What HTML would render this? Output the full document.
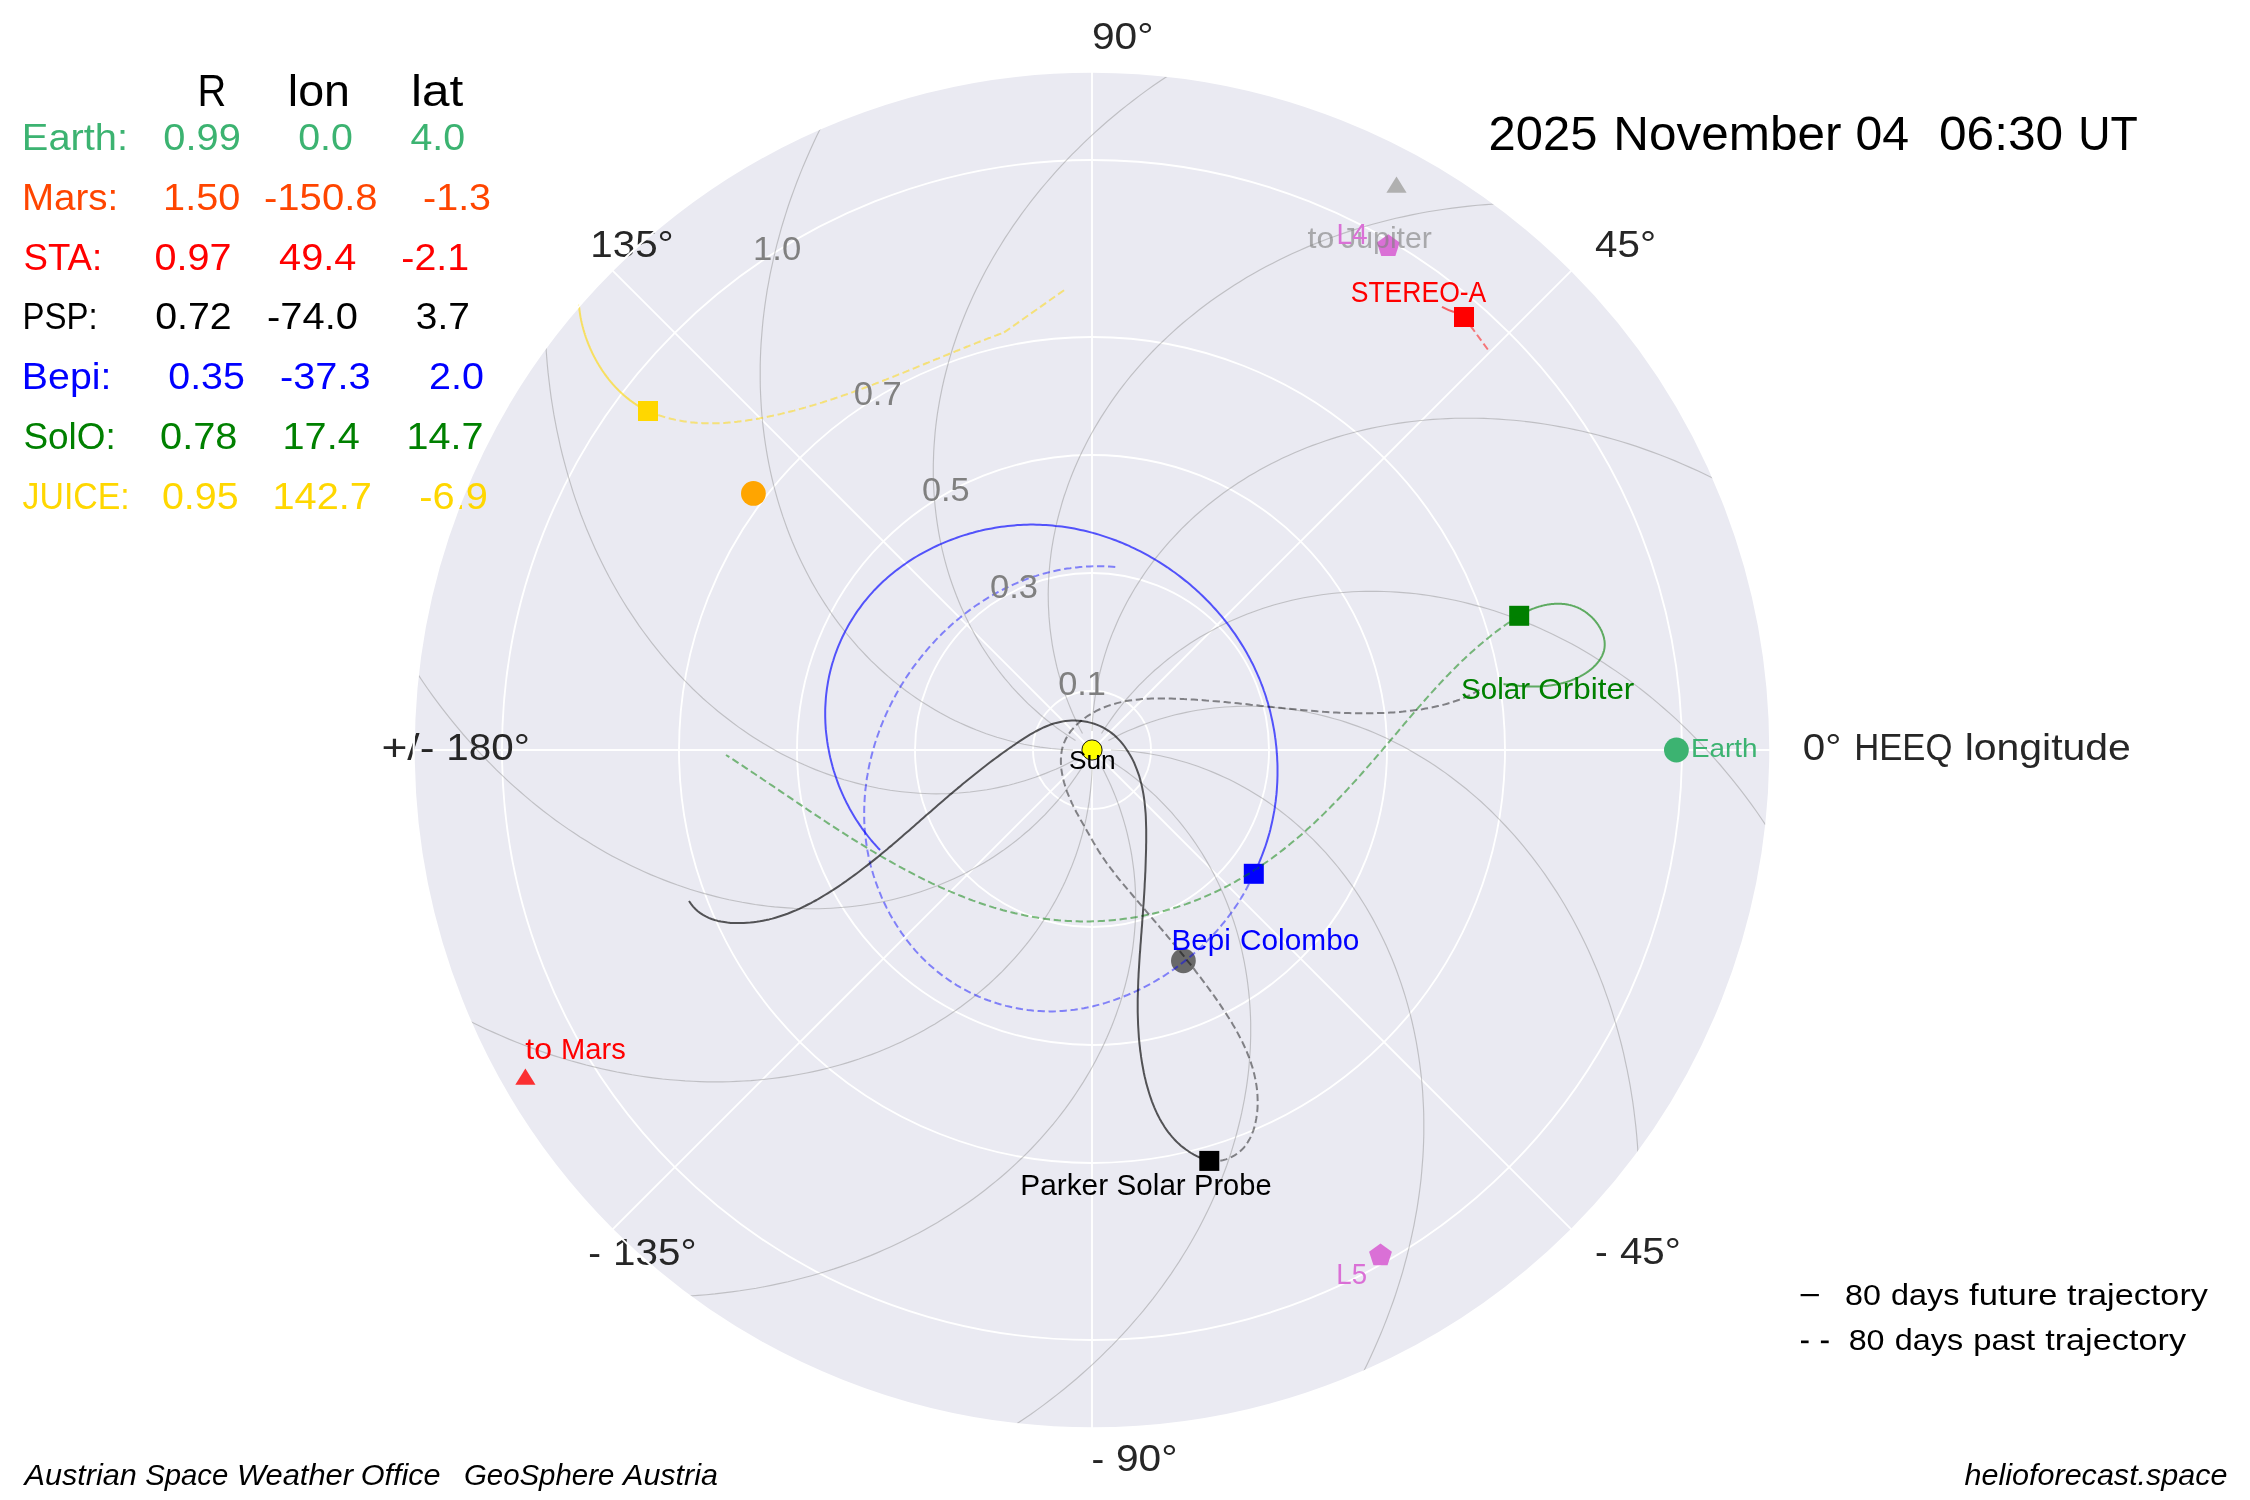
<!DOCTYPE html>
<html><head><meta charset="utf-8"><title>Planets</title><style>html,body{margin:0;padding:0;background:#fff;width:2250px;height:1500px;overflow:hidden}</style></head><body>
<svg xml:space="preserve" width="2250" height="1500" viewBox="0 0 2250 1500" style="position:absolute;left:0;top:0;will-change:transform;font-family:'Liberation Sans',sans-serif">
<rect width="2250" height="1500" fill="#ffffff"/>
<circle cx="1092.0" cy="750.0" r="678.3" fill="#EAEAF2"/>
<g stroke="#ffffff" stroke-width="1.85"><circle cx="1092.0" cy="750.0" r="59.0" fill="none"/><circle cx="1092.0" cy="750.0" r="177.0" fill="none"/><circle cx="1092.0" cy="750.0" r="295.0" fill="none"/><circle cx="1092.0" cy="750.0" r="413.0" fill="none"/><circle cx="1092.0" cy="750.0" r="590.0" fill="none"/><line x1="1092.0" y1="750.0" x2="1770.30" y2="750.00"/><line x1="1092.0" y1="750.0" x2="1571.63" y2="270.37"/><line x1="1092.0" y1="750.0" x2="1092.00" y2="71.70"/><line x1="1092.0" y1="750.0" x2="612.37" y2="270.37"/><line x1="1092.0" y1="750.0" x2="413.70" y2="750.00"/><line x1="1092.0" y1="750.0" x2="612.37" y2="1229.63"/><line x1="1092.0" y1="750.0" x2="1092.00" y2="1428.30"/><line x1="1092.0" y1="750.0" x2="1571.63" y2="1229.63"/></g>
<g fill="none" stroke="#8c8c8c" stroke-opacity="0.45" stroke-width="1.15"><polyline points="1075.5,740.5 1070.9,737.6 1066.3,734.5 1061.8,731.4 1057.3,728.2 1052.9,724.9 1048.5,721.5 1044.2,718.0 1040.0,714.5 1035.9,710.8 1031.8,707.1 1027.7,703.3 1023.8,699.4 1019.9,695.4 1016.1,691.4 1012.3,687.3 1008.7,683.0 1005.1,678.8 1001.5,674.4 998.1,670.0 994.7,665.5 991.4,660.9 988.2,656.2 985.1,651.5 982.0,646.7 979.1,641.9 976.2,636.9 973.4,631.9 970.7,626.9 968.1,621.8 965.5,616.6 963.1,611.3 960.7,606.0 958.5,600.7 956.3,595.3 954.2,589.8 952.2,584.3 950.3,578.7 948.5,573.1 946.8,567.4 945.2,561.7 943.7,555.9 942.3,550.1 941.0,544.2 939.8,538.3 938.7,532.3 937.7,526.3 936.8,520.3 936.0,514.2 935.3,508.1 934.7,502.0 934.2,495.8 933.8,489.6 933.5,483.3 933.3,477.1 933.3,470.8 933.3,464.5 933.5,458.1 933.7,451.7 934.1,445.3 934.6,438.9 935.1,432.5 935.8,426.0 936.6,419.6 937.5,413.1 938.6,406.6 939.7,400.1 941.0,393.6 942.3,387.1 943.8,380.5 945.4,374.0 947.1,367.5 948.9,360.9 950.8,354.4 952.8,347.8 955.0,341.3 957.2,334.8 959.6,328.2 962.1,321.7 964.7,315.2 967.4,308.7 970.3,302.2 973.2,295.8 976.3,289.3 979.4,282.9 982.7,276.4 986.1,270.0 989.6,263.7 993.3,257.3 997.0,251.0 1000.9,244.7 1004.8,238.4 1008.9,232.2 1013.1,225.9 1017.4,219.8 1021.8,213.6 1026.4,207.5 1031.0,201.4 1035.8,195.4 1040.6,189.4 1045.6,183.5 1050.7,177.6 1055.9,171.7 1061.2,165.9 1066.6,160.2 1072.1,154.4 1077.8,148.8 1083.5,143.2 1089.3,137.6 1095.3,132.1 1101.3,126.7 1107.5,121.3 1113.8,116.0 1120.1,110.8 1126.6,105.6 1133.2,100.5 1139.9,95.4 1146.7,90.4 1153.5,85.5 1160.5,80.7 1167.6,75.9"/><polyline points="1073.0,750.0 1067.5,749.8 1062.0,749.5 1056.5,749.0 1051.1,748.5 1045.6,747.8 1040.1,747.1 1034.7,746.2 1029.2,745.2 1023.8,744.2 1018.4,743.0 1013.0,741.7 1007.6,740.3 1002.3,738.8 996.9,737.2 991.6,735.5 986.3,733.7 981.1,731.8 975.9,729.8 970.7,727.6 965.5,725.4 960.3,723.1 955.2,720.7 950.2,718.2 945.1,715.5 940.1,712.8 935.2,710.0 930.3,707.1 925.4,704.0 920.6,700.9 915.8,697.7 911.0,694.4 906.3,691.0 901.7,687.5 897.1,683.9 892.6,680.2 888.1,676.4 883.7,672.5 879.3,668.5 875.0,664.4 870.7,660.3 866.5,656.0 862.4,651.7 858.3,647.3 854.3,642.7 850.4,638.1 846.5,633.5 842.7,628.7 839.0,623.8 835.3,618.9 831.7,613.9 828.2,608.8 824.8,603.6 821.4,598.3 818.1,593.0 814.9,587.5 811.8,582.1 808.8,576.5 805.8,570.8 802.9,565.1 800.1,559.3 797.4,553.5 794.8,547.5 792.2,541.5 789.8,535.5 787.4,529.3 785.2,523.1 783.0,516.9 780.9,510.5 778.9,504.1 777.0,497.7 775.2,491.2 773.5,484.6 771.9,478.0 770.4,471.3 769.0,464.6 767.7,457.8 766.5,450.9 765.4,444.0 764.4,437.1 763.5,430.1 762.7,423.1 762.0,416.0 761.4,408.9 761.0,401.7 760.6,394.5 760.3,387.3 760.2,380.0 760.2,372.7 760.2,365.3 760.4,357.9 760.7,350.5 761.1,343.1 761.7,335.6 762.3,328.1 763.0,320.6 763.9,313.0 764.9,305.4 766.0,297.8 767.2,290.2 768.6,282.6 770.0,274.9 771.6,267.3 773.3,259.6 775.1,251.9 777.0,244.2 779.1,236.5 781.2,228.7 783.5,221.0 785.9,213.3 788.4,205.5 791.1,197.8 793.9,190.1 796.8,182.3 799.8,174.6 802.9,166.9 806.2,159.2 809.6,151.5 813.1,143.8 816.7,136.1 820.4,128.4"/><polyline points="1075.6,759.5 1070.7,762.1 1065.8,764.5 1060.8,766.9 1055.8,769.2 1050.7,771.3 1045.6,773.4 1040.4,775.4 1035.3,777.3 1030.0,779.0 1024.7,780.7 1019.4,782.3 1014.1,783.8 1008.7,785.2 1003.3,786.4 997.8,787.6 992.3,788.7 986.8,789.7 981.3,790.5 975.7,791.3 970.1,792.0 964.5,792.5 958.9,793.0 953.2,793.3 947.6,793.6 941.9,793.7 936.2,793.8 930.5,793.7 924.7,793.5 919.0,793.2 913.2,792.8 907.5,792.3 901.7,791.7 895.9,791.0 890.2,790.2 884.4,789.2 878.6,788.2 872.8,787.0 867.0,785.8 861.3,784.4 855.5,782.9 849.8,781.3 844.0,779.7 838.3,777.9 832.6,775.9 826.8,773.9 821.1,771.8 815.5,769.6 809.8,767.2 804.2,764.8 798.5,762.2 793.0,759.6 787.4,756.8 781.8,753.9 776.3,750.9 770.8,747.8 765.4,744.6 759.9,741.3 754.6,737.9 749.2,734.4 743.9,730.8 738.6,727.1 733.4,723.3 728.2,719.3 723.0,715.3 717.9,711.2 712.8,706.9 707.8,702.6 702.8,698.2 697.9,693.6 693.0,689.0 688.2,684.2 683.5,679.4 678.8,674.5 674.1,669.4 669.5,664.3 665.0,659.1 660.6,653.8 656.2,648.3 651.8,642.8 647.5,637.2 643.3,631.5 639.2,625.8 635.2,619.9 631.2,613.9 627.2,607.9 623.4,601.7 619.6,595.5 616.0,589.2 612.3,582.7 608.8,576.3 605.4,569.7 602.0,563.0 598.7,556.3 595.5,549.5 592.4,542.6 589.4,535.6 586.4,528.5 583.6,521.4 580.8,514.2 578.2,506.9 575.6,499.6 573.1,492.1 570.8,484.6 568.5,477.1 566.3,469.4 564.2,461.7 562.2,454.0 560.3,446.1 558.6,438.2 556.9,430.3 555.3,422.2 553.8,414.2 552.5,406.0 551.2,397.8 550.1,389.6 549.1,381.3 548.1,372.9 547.3,364.5 546.6,356.0 546.0,347.5"/><polyline points="1082.5,766.5 1079.6,771.1 1076.5,775.7 1073.4,780.2 1070.2,784.7 1066.9,789.1 1063.5,793.5 1060.0,797.8 1056.5,802.0 1052.8,806.1 1049.1,810.2 1045.3,814.3 1041.4,818.2 1037.4,822.1 1033.4,825.9 1029.3,829.7 1025.0,833.3 1020.8,836.9 1016.4,840.5 1012.0,843.9 1007.5,847.3 1002.9,850.6 998.2,853.8 993.5,856.9 988.7,860.0 983.9,862.9 978.9,865.8 973.9,868.6 968.9,871.3 963.8,873.9 958.6,876.5 953.3,878.9 948.0,881.3 942.7,883.5 937.3,885.7 931.8,887.8 926.3,889.8 920.7,891.7 915.1,893.5 909.4,895.2 903.7,896.8 897.9,898.3 892.1,899.7 886.2,901.0 880.3,902.2 874.3,903.3 868.3,904.3 862.3,905.2 856.2,906.0 850.1,906.7 844.0,907.3 837.8,907.8 831.6,908.2 825.3,908.5 819.1,908.7 812.8,908.7 806.5,908.7 800.1,908.5 793.7,908.3 787.3,907.9 780.9,907.4 774.5,906.9 768.0,906.2 761.6,905.4 755.1,904.5 748.6,903.4 742.1,902.3 735.6,901.0 729.1,899.7 722.5,898.2 716.0,896.6 709.5,894.9 702.9,893.1 696.4,891.2 689.8,889.2 683.3,887.0 676.8,884.8 670.2,882.4 663.7,879.9 657.2,877.3 650.7,874.6 644.2,871.7 637.8,868.8 631.3,865.7 624.9,862.6 618.4,859.3 612.0,855.9 605.7,852.4 599.3,848.7 593.0,845.0 586.7,841.1 580.4,837.2 574.2,833.1 567.9,828.9 561.8,824.6 555.6,820.2 549.5,815.6 543.4,811.0 537.4,806.2 531.4,801.4 525.5,796.4 519.6,791.3 513.7,786.1 507.9,780.8 502.2,775.4 496.4,769.9 490.8,764.2 485.2,758.5 479.6,752.7 474.1,746.7 468.7,740.7 463.3,734.5 458.0,728.2 452.8,721.9 447.6,715.4 442.5,708.8 437.4,702.1 432.4,695.3 427.5,688.5 422.7,681.5 417.9,674.4"/><polyline points="1092.0,769.0 1091.8,774.5 1091.5,780.0 1091.0,785.5 1090.5,790.9 1089.8,796.4 1089.1,801.9 1088.2,807.3 1087.2,812.8 1086.2,818.2 1085.0,823.6 1083.7,829.0 1082.3,834.4 1080.8,839.7 1079.2,845.1 1077.5,850.4 1075.7,855.7 1073.8,860.9 1071.8,866.1 1069.6,871.3 1067.4,876.5 1065.1,881.7 1062.7,886.8 1060.2,891.8 1057.5,896.9 1054.8,901.9 1052.0,906.8 1049.1,911.7 1046.0,916.6 1042.9,921.4 1039.7,926.2 1036.4,931.0 1033.0,935.7 1029.5,940.3 1025.9,944.9 1022.2,949.4 1018.4,953.9 1014.5,958.3 1010.5,962.7 1006.4,967.0 1002.3,971.3 998.0,975.5 993.7,979.6 989.3,983.7 984.7,987.7 980.1,991.6 975.5,995.5 970.7,999.3 965.8,1003.0 960.9,1006.7 955.9,1010.3 950.8,1013.8 945.6,1017.2 940.3,1020.6 935.0,1023.9 929.5,1027.1 924.1,1030.2 918.5,1033.2 912.8,1036.2 907.1,1039.1 901.3,1041.9 895.5,1044.6 889.5,1047.2 883.5,1049.8 877.5,1052.2 871.3,1054.6 865.1,1056.8 858.9,1059.0 852.5,1061.1 846.1,1063.1 839.7,1065.0 833.2,1066.8 826.6,1068.5 820.0,1070.1 813.3,1071.6 806.6,1073.0 799.8,1074.3 792.9,1075.5 786.0,1076.6 779.1,1077.6 772.1,1078.5 765.1,1079.3 758.0,1080.0 750.9,1080.6 743.7,1081.0 736.5,1081.4 729.3,1081.7 722.0,1081.8 714.7,1081.8 707.3,1081.8 699.9,1081.6 692.5,1081.3 685.1,1080.9 677.6,1080.3 670.1,1079.7 662.6,1079.0 655.0,1078.1 647.4,1077.1 639.8,1076.0 632.2,1074.8 624.6,1073.4 616.9,1072.0 609.3,1070.4 601.6,1068.7 593.9,1066.9 586.2,1065.0 578.5,1062.9 570.7,1060.8 563.0,1058.5 555.3,1056.1 547.5,1053.6 539.8,1050.9 532.1,1048.1 524.3,1045.2 516.6,1042.2 508.9,1039.1 501.2,1035.8 493.5,1032.4 485.8,1028.9 478.1,1025.3 470.4,1021.6"/><polyline points="1101.5,766.4 1104.1,771.3 1106.5,776.2 1108.9,781.2 1111.2,786.2 1113.3,791.3 1115.4,796.4 1117.4,801.6 1119.3,806.7 1121.0,812.0 1122.7,817.3 1124.3,822.6 1125.8,827.9 1127.2,833.3 1128.4,838.7 1129.6,844.2 1130.7,849.7 1131.7,855.2 1132.5,860.7 1133.3,866.3 1134.0,871.9 1134.5,877.5 1135.0,883.1 1135.3,888.8 1135.6,894.4 1135.7,900.1 1135.8,905.8 1135.7,911.5 1135.5,917.3 1135.2,923.0 1134.8,928.8 1134.3,934.5 1133.7,940.3 1133.0,946.1 1132.2,951.8 1131.2,957.6 1130.2,963.4 1129.0,969.2 1127.8,975.0 1126.4,980.7 1124.9,986.5 1123.3,992.2 1121.7,998.0 1119.9,1003.7 1117.9,1009.4 1115.9,1015.2 1113.8,1020.9 1111.6,1026.5 1109.2,1032.2 1106.8,1037.8 1104.2,1043.5 1101.6,1049.0 1098.8,1054.6 1095.9,1060.2 1092.9,1065.7 1089.8,1071.2 1086.6,1076.6 1083.3,1082.1 1079.9,1087.4 1076.4,1092.8 1072.8,1098.1 1069.1,1103.4 1065.3,1108.6 1061.3,1113.8 1057.3,1119.0 1053.2,1124.1 1048.9,1129.2 1044.6,1134.2 1040.2,1139.2 1035.6,1144.1 1031.0,1149.0 1026.2,1153.8 1021.4,1158.5 1016.5,1163.2 1011.4,1167.9 1006.3,1172.5 1001.1,1177.0 995.8,1181.4 990.3,1185.8 984.8,1190.2 979.2,1194.5 973.5,1198.7 967.8,1202.8 961.9,1206.8 955.9,1210.8 949.9,1214.8 943.7,1218.6 937.5,1222.4 931.2,1226.0 924.7,1229.7 918.3,1233.2 911.7,1236.6 905.0,1240.0 898.3,1243.3 891.5,1246.5 884.6,1249.6 877.6,1252.6 870.5,1255.6 863.4,1258.4 856.2,1261.2 848.9,1263.8 841.6,1266.4 834.1,1268.9 826.6,1271.2 819.1,1273.5 811.4,1275.7 803.7,1277.8 796.0,1279.8 788.1,1281.7 780.2,1283.4 772.3,1285.1 764.2,1286.7 756.2,1288.2 748.0,1289.5 739.8,1290.8 731.6,1291.9 723.3,1292.9 714.9,1293.9 706.5,1294.7 698.0,1295.4 689.5,1296.0"/><polyline points="1108.5,759.5 1113.1,762.4 1117.7,765.5 1122.2,768.6 1126.7,771.8 1131.1,775.1 1135.5,778.5 1139.8,782.0 1144.0,785.5 1148.1,789.2 1152.2,792.9 1156.3,796.7 1160.2,800.6 1164.1,804.6 1167.9,808.6 1171.7,812.7 1175.3,817.0 1178.9,821.2 1182.5,825.6 1185.9,830.0 1189.3,834.5 1192.6,839.1 1195.8,843.8 1198.9,848.5 1202.0,853.3 1204.9,858.1 1207.8,863.1 1210.6,868.1 1213.3,873.1 1215.9,878.2 1218.5,883.4 1220.9,888.7 1223.3,894.0 1225.5,899.3 1227.7,904.7 1229.8,910.2 1231.8,915.7 1233.7,921.3 1235.5,926.9 1237.2,932.6 1238.8,938.3 1240.3,944.1 1241.7,949.9 1243.0,955.8 1244.2,961.7 1245.3,967.7 1246.3,973.7 1247.2,979.7 1248.0,985.8 1248.7,991.9 1249.3,998.0 1249.8,1004.2 1250.2,1010.4 1250.5,1016.7 1250.7,1022.9 1250.7,1029.2 1250.7,1035.5 1250.5,1041.9 1250.3,1048.3 1249.9,1054.7 1249.4,1061.1 1248.9,1067.5 1248.2,1074.0 1247.4,1080.4 1246.5,1086.9 1245.4,1093.4 1244.3,1099.9 1243.0,1106.4 1241.7,1112.9 1240.2,1119.5 1238.6,1126.0 1236.9,1132.5 1235.1,1139.1 1233.2,1145.6 1231.2,1152.2 1229.0,1158.7 1226.8,1165.2 1224.4,1171.8 1221.9,1178.3 1219.3,1184.8 1216.6,1191.3 1213.7,1197.8 1210.8,1204.2 1207.7,1210.7 1204.6,1217.1 1201.3,1223.6 1197.9,1230.0 1194.4,1236.3 1190.7,1242.7 1187.0,1249.0 1183.1,1255.3 1179.2,1261.6 1175.1,1267.8 1170.9,1274.1 1166.6,1280.2 1162.2,1286.4 1157.6,1292.5 1153.0,1298.6 1148.2,1304.6 1143.4,1310.6 1138.4,1316.5 1133.3,1322.4 1128.1,1328.3 1122.8,1334.1 1117.4,1339.8 1111.9,1345.6 1106.2,1351.2 1100.5,1356.8 1094.7,1362.4 1088.7,1367.9 1082.7,1373.3 1076.5,1378.7 1070.2,1384.0 1063.9,1389.2 1057.4,1394.4 1050.8,1399.5 1044.1,1404.6 1037.3,1409.6 1030.5,1414.5 1023.5,1419.3 1016.4,1424.1"/><polyline points="1111.0,750.0 1116.5,750.2 1122.0,750.5 1127.5,751.0 1132.9,751.5 1138.4,752.2 1143.9,752.9 1149.3,753.8 1154.8,754.8 1160.2,755.8 1165.6,757.0 1171.0,758.3 1176.4,759.7 1181.7,761.2 1187.1,762.8 1192.4,764.5 1197.7,766.3 1202.9,768.2 1208.1,770.2 1213.3,772.4 1218.5,774.6 1223.7,776.9 1228.8,779.3 1233.8,781.8 1238.9,784.5 1243.9,787.2 1248.8,790.0 1253.7,792.9 1258.6,796.0 1263.4,799.1 1268.2,802.3 1273.0,805.6 1277.7,809.0 1282.3,812.5 1286.9,816.1 1291.4,819.8 1295.9,823.6 1300.3,827.5 1304.7,831.5 1309.0,835.6 1313.3,839.7 1317.5,844.0 1321.6,848.3 1325.7,852.7 1329.7,857.3 1333.6,861.9 1337.5,866.5 1341.3,871.3 1345.0,876.2 1348.7,881.1 1352.3,886.1 1355.8,891.2 1359.2,896.4 1362.6,901.7 1365.9,907.0 1369.1,912.5 1372.2,917.9 1375.2,923.5 1378.2,929.2 1381.1,934.9 1383.9,940.7 1386.6,946.5 1389.2,952.5 1391.8,958.5 1394.2,964.5 1396.6,970.7 1398.8,976.9 1401.0,983.1 1403.1,989.5 1405.1,995.9 1407.0,1002.3 1408.8,1008.8 1410.5,1015.4 1412.1,1022.0 1413.6,1028.7 1415.0,1035.4 1416.3,1042.2 1417.5,1049.1 1418.6,1056.0 1419.6,1062.9 1420.5,1069.9 1421.3,1076.9 1422.0,1084.0 1422.6,1091.1 1423.0,1098.3 1423.4,1105.5 1423.7,1112.7 1423.8,1120.0 1423.8,1127.3 1423.8,1134.7 1423.6,1142.1 1423.3,1149.5 1422.9,1156.9 1422.3,1164.4 1421.7,1171.9 1421.0,1179.4 1420.1,1187.0 1419.1,1194.6 1418.0,1202.2 1416.8,1209.8 1415.4,1217.4 1414.0,1225.1 1412.4,1232.7 1410.7,1240.4 1408.9,1248.1 1407.0,1255.8 1404.9,1263.5 1402.8,1271.3 1400.5,1279.0 1398.1,1286.7 1395.6,1294.5 1392.9,1302.2 1390.1,1309.9 1387.2,1317.7 1384.2,1325.4 1381.1,1333.1 1377.8,1340.8 1374.4,1348.5 1370.9,1356.2 1367.3,1363.9 1363.6,1371.6"/><polyline points="1108.4,740.5 1113.3,737.9 1118.2,735.5 1123.2,733.1 1128.2,730.8 1133.3,728.7 1138.4,726.6 1143.6,724.6 1148.7,722.7 1154.0,721.0 1159.3,719.3 1164.6,717.7 1169.9,716.2 1175.3,714.8 1180.7,713.6 1186.2,712.4 1191.7,711.3 1197.2,710.3 1202.7,709.5 1208.3,708.7 1213.9,708.0 1219.5,707.5 1225.1,707.0 1230.8,706.7 1236.4,706.4 1242.1,706.3 1247.8,706.2 1253.5,706.3 1259.3,706.5 1265.0,706.8 1270.8,707.2 1276.5,707.7 1282.3,708.3 1288.1,709.0 1293.8,709.8 1299.6,710.8 1305.4,711.8 1311.2,713.0 1317.0,714.2 1322.7,715.6 1328.5,717.1 1334.2,718.7 1340.0,720.3 1345.7,722.1 1351.4,724.1 1357.2,726.1 1362.9,728.2 1368.5,730.4 1374.2,732.8 1379.8,735.2 1385.5,737.8 1391.0,740.4 1396.6,743.2 1402.2,746.1 1407.7,749.1 1413.2,752.2 1418.6,755.4 1424.1,758.7 1429.4,762.1 1434.8,765.6 1440.1,769.2 1445.4,772.9 1450.6,776.7 1455.8,780.7 1461.0,784.7 1466.1,788.8 1471.2,793.1 1476.2,797.4 1481.2,801.8 1486.1,806.4 1491.0,811.0 1495.8,815.8 1500.5,820.6 1505.2,825.5 1509.9,830.6 1514.5,835.7 1519.0,840.9 1523.4,846.2 1527.8,851.7 1532.2,857.2 1536.5,862.8 1540.7,868.5 1544.8,874.2 1548.8,880.1 1552.8,886.1 1556.8,892.1 1560.6,898.3 1564.4,904.5 1568.0,910.8 1571.7,917.3 1575.2,923.7 1578.6,930.3 1582.0,937.0 1585.3,943.7 1588.5,950.5 1591.6,957.4 1594.6,964.4 1597.6,971.5 1600.4,978.6 1603.2,985.8 1605.8,993.1 1608.4,1000.4 1610.9,1007.9 1613.2,1015.4 1615.5,1022.9 1617.7,1030.6 1619.8,1038.3 1621.8,1046.0 1623.7,1053.9 1625.4,1061.8 1627.1,1069.7 1628.7,1077.8 1630.2,1085.8 1631.5,1094.0 1632.8,1102.2 1633.9,1110.4 1634.9,1118.7 1635.9,1127.1 1636.7,1135.5 1637.4,1144.0 1638.0,1152.5"/><polyline points="1101.5,733.5 1104.4,728.9 1107.5,724.3 1110.6,719.8 1113.8,715.3 1117.1,710.9 1120.5,706.5 1124.0,702.2 1127.5,698.0 1131.2,693.9 1134.9,689.8 1138.7,685.7 1142.6,681.8 1146.6,677.9 1150.6,674.1 1154.7,670.3 1159.0,666.7 1163.2,663.1 1167.6,659.5 1172.0,656.1 1176.5,652.7 1181.1,649.4 1185.8,646.2 1190.5,643.1 1195.3,640.0 1200.1,637.1 1205.1,634.2 1210.1,631.4 1215.1,628.7 1220.2,626.1 1225.4,623.5 1230.7,621.1 1236.0,618.7 1241.3,616.5 1246.7,614.3 1252.2,612.2 1257.7,610.2 1263.3,608.3 1268.9,606.5 1274.6,604.8 1280.3,603.2 1286.1,601.7 1291.9,600.3 1297.8,599.0 1303.7,597.8 1309.7,596.7 1315.7,595.7 1321.7,594.8 1327.8,594.0 1333.9,593.3 1340.0,592.7 1346.2,592.2 1352.4,591.8 1358.7,591.5 1364.9,591.3 1371.2,591.3 1377.5,591.3 1383.9,591.5 1390.3,591.7 1396.7,592.1 1403.1,592.6 1409.5,593.1 1416.0,593.8 1422.4,594.6 1428.9,595.5 1435.4,596.6 1441.9,597.7 1448.4,599.0 1454.9,600.3 1461.5,601.8 1468.0,603.4 1474.5,605.1 1481.1,606.9 1487.6,608.8 1494.2,610.8 1500.7,613.0 1507.2,615.2 1513.8,617.6 1520.3,620.1 1526.8,622.7 1533.3,625.4 1539.8,628.3 1546.2,631.2 1552.7,634.3 1559.1,637.4 1565.6,640.7 1572.0,644.1 1578.3,647.6 1584.7,651.3 1591.0,655.0 1597.3,658.9 1603.6,662.8 1609.8,666.9 1616.1,671.1 1622.2,675.4 1628.4,679.8 1634.5,684.4 1640.6,689.0 1646.6,693.8 1652.6,698.6 1658.5,703.6 1664.4,708.7 1670.3,713.9 1676.1,719.2 1681.8,724.6 1687.6,730.1 1693.2,735.8 1698.8,741.5 1704.4,747.3 1709.9,753.3 1715.3,759.3 1720.7,765.5 1726.0,771.8 1731.2,778.1 1736.4,784.6 1741.5,791.2 1746.6,797.9 1751.6,804.7 1756.5,811.5 1761.3,818.5 1766.1,825.6"/><polyline points="1092.0,731.0 1092.2,725.5 1092.5,720.0 1093.0,714.5 1093.5,709.1 1094.2,703.6 1094.9,698.1 1095.8,692.7 1096.8,687.2 1097.8,681.8 1099.0,676.4 1100.3,671.0 1101.7,665.6 1103.2,660.3 1104.8,654.9 1106.5,649.6 1108.3,644.3 1110.2,639.1 1112.2,633.9 1114.4,628.7 1116.6,623.5 1118.9,618.3 1121.3,613.2 1123.8,608.2 1126.5,603.1 1129.2,598.1 1132.0,593.2 1134.9,588.3 1138.0,583.4 1141.1,578.6 1144.3,573.8 1147.6,569.0 1151.0,564.3 1154.5,559.7 1158.1,555.1 1161.8,550.6 1165.6,546.1 1169.5,541.7 1173.5,537.3 1177.6,533.0 1181.7,528.7 1186.0,524.5 1190.3,520.4 1194.7,516.3 1199.3,512.3 1203.9,508.4 1208.5,504.5 1213.3,500.7 1218.2,497.0 1223.1,493.3 1228.1,489.7 1233.2,486.2 1238.4,482.8 1243.7,479.4 1249.0,476.1 1254.5,472.9 1259.9,469.8 1265.5,466.8 1271.2,463.8 1276.9,460.9 1282.7,458.1 1288.5,455.4 1294.5,452.8 1300.5,450.2 1306.5,447.8 1312.7,445.4 1318.9,443.2 1325.1,441.0 1331.5,438.9 1337.9,436.9 1344.3,435.0 1350.8,433.2 1357.4,431.5 1364.0,429.9 1370.7,428.4 1377.4,427.0 1384.2,425.7 1391.1,424.5 1398.0,423.4 1404.9,422.4 1411.9,421.5 1418.9,420.7 1426.0,420.0 1433.1,419.4 1440.3,419.0 1447.5,418.6 1454.7,418.3 1462.0,418.2 1469.3,418.2 1476.7,418.2 1484.1,418.4 1491.5,418.7 1498.9,419.1 1506.4,419.7 1513.9,420.3 1521.4,421.0 1529.0,421.9 1536.6,422.9 1544.2,424.0 1551.8,425.2 1559.4,426.6 1567.1,428.0 1574.7,429.6 1582.4,431.3 1590.1,433.1 1597.8,435.0 1605.5,437.1 1613.3,439.2 1621.0,441.5 1628.7,443.9 1636.5,446.4 1644.2,449.1 1651.9,451.9 1659.7,454.8 1667.4,457.8 1675.1,460.9 1682.8,464.2 1690.5,467.6 1698.2,471.1 1705.9,474.7 1713.6,478.4"/><polyline points="1082.5,733.6 1079.9,728.7 1077.5,723.8 1075.1,718.8 1072.8,713.8 1070.7,708.7 1068.6,703.6 1066.6,698.4 1064.7,693.3 1063.0,688.0 1061.3,682.7 1059.7,677.4 1058.2,672.1 1056.8,666.7 1055.6,661.3 1054.4,655.8 1053.3,650.3 1052.3,644.8 1051.5,639.3 1050.7,633.7 1050.0,628.1 1049.5,622.5 1049.0,616.9 1048.7,611.2 1048.4,605.6 1048.3,599.9 1048.2,594.2 1048.3,588.5 1048.5,582.7 1048.8,577.0 1049.2,571.2 1049.7,565.5 1050.3,559.7 1051.0,553.9 1051.8,548.2 1052.8,542.4 1053.8,536.6 1055.0,530.8 1056.2,525.0 1057.6,519.3 1059.1,513.5 1060.7,507.8 1062.3,502.0 1064.1,496.3 1066.1,490.6 1068.1,484.8 1070.2,479.1 1072.4,473.5 1074.8,467.8 1077.2,462.2 1079.8,456.5 1082.4,451.0 1085.2,445.4 1088.1,439.8 1091.1,434.3 1094.2,428.8 1097.4,423.4 1100.7,417.9 1104.1,412.6 1107.6,407.2 1111.2,401.9 1114.9,396.6 1118.7,391.4 1122.7,386.2 1126.7,381.0 1130.8,375.9 1135.1,370.8 1139.4,365.8 1143.8,360.8 1148.4,355.9 1153.0,351.0 1157.8,346.2 1162.6,341.5 1167.5,336.8 1172.6,332.1 1177.7,327.5 1182.9,323.0 1188.2,318.6 1193.7,314.2 1199.2,309.8 1204.8,305.5 1210.5,301.3 1216.2,297.2 1222.1,293.2 1228.1,289.2 1234.1,285.2 1240.3,281.4 1246.5,277.6 1252.8,274.0 1259.3,270.3 1265.7,266.8 1272.3,263.4 1279.0,260.0 1285.7,256.7 1292.5,253.5 1299.4,250.4 1306.4,247.4 1313.5,244.4 1320.6,241.6 1327.8,238.8 1335.1,236.2 1342.4,233.6 1349.9,231.1 1357.4,228.8 1364.9,226.5 1372.6,224.3 1380.3,222.2 1388.0,220.2 1395.9,218.3 1403.8,216.6 1411.7,214.9 1419.8,213.3 1427.8,211.8 1436.0,210.5 1444.2,209.2 1452.4,208.1 1460.7,207.1 1469.1,206.1 1477.5,205.3 1486.0,204.6 1494.5,204.0"/></g>
<circle cx="1092" cy="750" r="10.1" fill="#FFFF00" stroke="#000" stroke-width="0.9"/>
<circle cx="1676.4" cy="750" r="12.4" fill="#3CB371"/>
<circle cx="753.4" cy="493.4" r="12.4" fill="#FFA500"/>
<circle cx="1183.4" cy="960.8" r="12.4" fill="#696969"/>
<rect x="1454.0" y="307.0" width="20" height="20" fill="#FF0000"/>
<rect x="1509.2" y="605.8" width="20" height="20" fill="#008000"/>
<rect x="1243.8" y="863.8" width="20" height="20" fill="#0000FF"/>
<rect x="1199.3" y="1150.9" width="20" height="20" fill="#000000"/>
<rect x="638.0" y="401.0" width="20" height="20" fill="#FFD700"/>
<polygon points="1396.5,176.5 1406.6,192.7 1386.4,192.7" fill="#B0B0B0" fill-opacity="1"/>
<polygon points="525.4,1068.6 535.5,1084.8 515.3,1084.8" fill="#FF0000" fill-opacity="0.8"/>
<polygon points="1388.30,234.20 1376.89,242.49 1381.25,255.91 1395.35,255.91 1399.71,242.49" fill="#DA70D6"/>
<polygon points="1380.50,1243.50 1369.09,1251.79 1373.45,1265.21 1387.55,1265.21 1391.91,1251.79" fill="#DA70D6"/>
<path d="M1519.0,616.0 1519.6,615.6 1520.2,615.2 1520.9,614.8 1521.5,614.4 1522.1,614.0 1522.8,613.6 1523.4,613.3 1524.1,612.9 1524.8,612.5 1525.4,612.2 1526.1,611.8 1526.8,611.5 1527.5,611.1 1528.2,610.8 1528.9,610.5 1529.6,610.1 1530.3,609.8 1531.0,609.5 1531.7,609.2 1532.4,608.9 1533.1,608.6 1533.9,608.4 1534.6,608.1 1535.3,607.8 1536.1,607.6 1536.8,607.3 1537.6,607.1 1538.3,606.8 1539.1,606.6 1539.8,606.4 1540.6,606.2 1541.3,606.0 1542.1,605.8 1542.9,605.6 1543.6,605.4 1544.4,605.2 1545.2,605.1 1545.9,604.9 1546.7,604.8 1547.5,604.6 1548.3,604.5 1549.0,604.4 1549.8,604.3 1550.6,604.2 1551.4,604.1 1552.1,604.0 1552.9,603.9 1553.7,603.9 1554.5,603.8 1555.3,603.8 1556.0,603.8 1556.8,603.7 1557.6,603.7 1558.4,603.7 1559.2,603.8 1559.9,603.8 1560.7,603.8 1561.5,603.8 1562.3,603.9 1563.0,604.0 1563.8,604.0 1564.6,604.1 1565.3,604.2 1566.1,604.3 1566.9,604.5 1567.6,604.6 1568.4,604.7 1569.1,604.9 1569.9,605.1 1570.6,605.2 1571.4,605.4 1572.1,605.6 1572.9,605.9 1573.6,606.1 1574.3,606.3 1575.1,606.6 1575.8,606.9 1576.5,607.1 1577.2,607.4 1577.9,607.7 1578.7,608.1 1579.4,608.4 1580.1,608.7 1580.8,609.1 1581.4,609.5 1582.1,609.9 1582.8,610.3 1583.5,610.7 1584.1,611.1 1584.8,611.5 1585.5,612.0 1586.1,612.4 1586.7,612.9 1587.4,613.4 1588.0,613.9 1588.6,614.4 1589.2,614.9 1589.8,615.4 1590.4,616.0 1591.0,616.5 1591.6,617.0 1592.2,617.6 1592.7,618.2 1593.3,618.8 1593.8,619.3 1594.3,619.9 1594.8,620.5 1595.4,621.1 1595.9,621.8 1596.3,622.4 1596.8,623.0 1597.3,623.6 1597.7,624.3 1598.2,624.9 1598.6,625.6 1599.0,626.2 1599.4,626.9 1599.8,627.6 1600.2,628.3 1600.5,628.9 1600.9,629.6 1601.2,630.3 1601.6,631.0 1601.9,631.7 1602.2,632.4 1602.4,633.1 1602.7,633.8 1602.9,634.5 1603.2,635.2 1603.4,635.9 1603.6,636.6 1603.8,637.3 1604.0,638.0 1604.1,638.7 1604.2,639.4 1604.4,640.1 1604.5,640.9 1604.6,641.6 1604.6,642.3 1604.7,643.0 1604.7,643.7 1604.7,644.4 1604.7,645.1 1604.7,645.8 1604.6,646.5 1604.6,647.2 1604.5,647.9 1604.4,648.6 1604.3,649.3 1604.1,650.0 1604.0,650.7 1603.8,651.4 1603.6,652.0 1603.3,652.7 1603.1,653.4 1602.8,654.0 1602.6,654.7 1602.3,655.4 1602.0,656.0 1601.6,656.7 1601.3,657.3 1600.9,657.9 1600.5,658.6 1600.1,659.2 1599.7,659.8 1599.3,660.4 1598.9,661.1 1598.4,661.7 1598.0,662.3 1597.5,662.8 1597.0,663.4 1596.5,664.0 1596.0,664.6 1595.4,665.2 1594.9,665.7 1594.3,666.3 1593.8,666.8 1593.2,667.4 1592.6,667.9 1592.0,668.4 1591.4,668.9 1590.8,669.4 1590.2,669.9 1589.5,670.4 1588.9,670.9 1588.3,671.4 1587.6,671.9 1586.9,672.3 1586.3,672.8 1585.6,673.2 1584.9,673.7 1584.2,674.1 1583.5,674.5 1582.9,674.9 1582.1,675.3 1581.4,675.7 1580.7,676.1 1580.0,676.5 1579.3,676.9 1578.6,677.2 1577.8,677.6 1577.1,677.9 1576.4,678.3 1575.6,678.6 1574.9,678.9 1574.2,679.2 1573.4,679.5 1572.7,679.8 1571.9,680.1 1571.2,680.4 1570.4,680.7 1569.7,680.9 1568.9,681.2 1568.2,681.4 1567.4,681.7 1566.6,681.9 1565.9,682.2 1565.1,682.4 1564.4,682.6 1563.6,682.8 1562.9,683.0 1562.1,683.2 1561.3,683.4 1560.6,683.6 1559.8,683.8 1559.1,683.9 1558.3,684.1 1557.6,684.3 1556.8,684.4 1556.0,684.6 1555.3,684.7 1554.5,684.8 1553.8,685.0 1553.0,685.1 1552.2,685.2 1551.5,685.3 1550.7,685.4 1550.0,685.5 1549.2,685.6 1548.5,685.7 1547.7,685.8 1546.9,685.9 1546.2,686.0 1545.4,686.0 1544.7,686.1 1543.9,686.1 1543.1,686.2 1542.4,686.3 1541.6,686.3 1540.9,686.3 1540.1,686.4 1539.3,686.4 1538.6,686.4 1537.8,686.5 1537.1,686.5 1536.3,686.5 1535.5,686.5 1534.8,686.5 1534.0,686.5 1533.3,686.5 1532.5,686.5 1531.7,686.5 1531.0,686.5 1530.2,686.5 1529.4,686.4 1528.7,686.4 1527.9,686.4 1527.2,686.4 1526.4,686.3 1525.6,686.3 1524.9,686.2 1524.1,686.2 1523.4,686.2 1522.6,686.1 1521.8,686.1 1521.1,686.0 1520.3,685.9 1519.5,685.9 1518.8,685.8 1518.0,685.7 1517.3,685.7 1516.5,685.6 1515.7,685.5 1515.0,685.5 1514.2,685.4 1513.4,685.3 1512.7,685.2 1511.9,685.1 1511.1,685.0 1510.4,685.0 1509.6,684.9 1508.9,684.8 1508.1,684.7 1507.3,684.6 1506.6,684.5 1505.8,684.4 1505.0,684.3 1504.3,684.2 1503.5,684.1" fill="none" stroke="#008000" stroke-opacity="0.6" stroke-width="2.0" stroke-linejoin="round"/>
<path d="M1519.0,616.0 1516.2,617.7 1513.5,619.4 1510.9,621.2 1508.2,623.0 1505.6,624.8 1503.0,626.7 1500.4,628.5 1497.9,630.4 1495.3,632.3 1492.8,634.3 1490.3,636.2 1487.9,638.2 1485.4,640.2 1483.0,642.2 1480.6,644.2 1478.2,646.3 1475.8,648.4 1473.5,650.4 1471.1,652.5 1468.8,654.7 1466.5,656.8 1464.2,659.0 1461.9,661.1 1459.6,663.3 1457.4,665.5 1455.2,667.7 1452.9,670.0 1450.7,672.2 1448.5,674.5 1446.3,676.7 1444.2,679.0 1442.0,681.3 1439.8,683.6 1437.7,685.9 1435.5,688.3 1433.4,690.6 1431.3,692.9 1429.2,695.3 1427.1,697.6 1425.0,700.0 1422.9,702.4 1420.8,704.8 1418.7,707.2 1416.6,709.6 1414.6,712.0 1412.5,714.4 1410.4,716.8 1408.4,719.2 1406.3,721.6 1404.2,724.0 1402.2,726.5 1400.1,728.9 1398.1,731.3 1396.0,733.8 1394.0,736.2 1391.9,738.6 1389.8,741.1 1387.8,743.5 1385.7,745.9 1383.6,748.4 1381.6,750.8 1379.5,753.2 1377.4,755.7 1375.3,758.1 1373.2,760.5 1371.1,762.9 1369.0,765.3 1366.9,767.7 1364.8,770.1 1362.7,772.5 1360.6,774.9 1358.4,777.3 1356.3,779.7 1354.1,782.1 1352.0,784.4 1349.8,786.8 1347.7,789.1 1345.5,791.5 1343.3,793.8 1341.1,796.1 1338.9,798.5 1336.7,800.8 1334.4,803.1 1332.2,805.3 1330.0,807.6 1327.7,809.9 1325.5,812.1 1323.2,814.4 1320.9,816.6 1318.6,818.8 1316.3,821.0 1314.0,823.2 1311.6,825.3 1309.3,827.5 1306.9,829.6 1304.6,831.8 1302.2,833.9 1299.8,836.0 1297.4,838.0 1294.9,840.1 1292.5,842.1 1290.1,844.1 1287.6,846.2 1285.1,848.1 1282.6,850.1 1280.1,852.0 1277.6,854.0 1275.0,855.9 1272.5,857.8 1269.9,859.6 1267.3,861.5 1264.7,863.3 1262.1,865.1 1259.4,866.9 1256.8,868.6 1254.1,870.4 1251.4,872.1 1248.7,873.8 1246.0,875.4 1243.3,877.1 1240.6,878.7 1237.8,880.2 1235.1,881.8 1232.3,883.3 1229.5,884.9 1226.7,886.3 1223.8,887.8 1221.0,889.2 1218.2,890.6 1215.3,892.0 1212.4,893.3 1209.5,894.6 1206.6,895.9 1203.7,897.2 1200.8,898.4 1197.9,899.6 1194.9,900.8 1192.0,901.9 1189.0,903.0 1186.0,904.1 1183.0,905.1 1180.0,906.1 1177.0,907.1 1173.9,908.0 1170.9,908.9 1167.9,909.8 1164.8,910.7 1161.7,911.5 1158.7,912.3 1155.6,913.0 1152.5,913.8 1149.4,914.4 1146.3,915.1 1143.2,915.7 1140.1,916.3 1137.0,916.9 1133.8,917.4 1130.7,917.9 1127.6,918.4 1124.4,918.8 1121.3,919.2 1118.2,919.6 1115.0,919.9 1111.9,920.2 1108.7,920.5 1105.6,920.7 1102.4,920.9 1099.3,921.1 1096.1,921.2 1092.9,921.3 1089.8,921.4 1086.6,921.4 1083.5,921.4 1080.3,921.4 1077.2,921.3 1074.0,921.2 1070.9,921.1 1067.8,921.0 1064.6,920.8 1061.5,920.5 1058.4,920.3 1055.2,920.0 1052.1,919.7 1049.0,919.3 1045.9,918.9 1042.8,918.5 1039.7,918.0 1036.6,917.5 1033.5,917.0 1030.4,916.5 1027.4,915.9 1024.3,915.3 1021.2,914.6 1018.2,914.0 1015.1,913.3 1012.1,912.5 1009.1,911.8 1006.0,911.0 1003.0,910.2 1000.0,909.3 996.9,908.4 993.9,907.6 990.9,906.6 987.9,905.7 984.9,904.7 981.9,903.7 979.0,902.7 976.0,901.6 973.0,900.6 970.0,899.5 967.1,898.3 964.1,897.2 961.2,896.0 958.2,894.9 955.3,893.6 952.3,892.4 949.4,891.2 946.5,889.9 943.6,888.6 940.6,887.3 937.7,886.0 934.8,884.6 931.9,883.3 929.0,881.9 926.1,880.5 923.3,879.1 920.4,877.6 917.5,876.2 914.6,874.7 911.8,873.2 908.9,871.7 906.1,870.2 903.2,868.7 900.4,867.1 897.5,865.6 894.7,864.0 891.9,862.4 889.1,860.8 886.2,859.2 883.4,857.6 880.6,856.0 877.8,854.3 875.0,852.7 872.2,851.0 869.4,849.3 866.7,847.6 863.9,845.9 861.1,844.2 858.3,842.5 855.6,840.8 852.8,839.1 850.1,837.4 847.3,835.6 844.6,833.9 841.9,832.1 839.1,830.4 836.4,828.6 833.7,826.8 830.9,825.1 828.2,823.3 825.5,821.5 822.8,819.7 820.1,817.9 817.4,816.2 814.7,814.4 812.1,812.6 809.4,810.8 806.7,809.0 804.0,807.2 801.4,805.4 798.7,803.6 796.0,801.8 793.4,800.0 790.7,798.2 788.1,796.4 785.5,794.6 782.8,792.9 780.2,791.1 777.6,789.3 775.0,787.5 772.3,785.7 769.7,784.0 767.1,782.2 764.5,780.5 761.9,778.7 759.3,777.0 756.7,775.2 754.2,773.5 751.6,771.8 749.0,770.0 746.4,768.3 743.9,766.6 741.3,764.9 738.8,763.3 736.2,761.6 733.7,759.9 731.1,758.3 728.6,756.6 726.0,755.0" fill="none" stroke="#008000" stroke-opacity="0.5" stroke-width="2.0" stroke-dasharray="7.3,3.7" stroke-linejoin="round"/>
<path d="M1253.8,873.8 1255.2,871.0 1256.6,868.1 1257.9,865.3 1259.2,862.4 1260.4,859.5 1261.6,856.5 1262.7,853.6 1263.8,850.6 1264.9,847.7 1265.9,844.7 1266.9,841.6 1267.8,838.6 1268.7,835.6 1269.6,832.5 1270.4,829.4 1271.1,826.3 1271.8,823.2 1272.5,820.1 1273.1,817.0 1273.7,813.9 1274.3,810.7 1274.8,807.6 1275.2,804.4 1275.7,801.2 1276.0,798.0 1276.4,794.9 1276.7,791.7 1276.9,788.5 1277.1,785.3 1277.3,782.1 1277.4,778.9 1277.5,775.6 1277.5,772.4 1277.5,769.2 1277.5,766.0 1277.4,762.8 1277.2,759.6 1277.1,756.4 1276.8,753.2 1276.6,749.9 1276.3,746.7 1275.9,743.5 1275.6,740.3 1275.1,737.2 1274.7,734.0 1274.2,730.8 1273.6,727.6 1273.0,724.5 1272.4,721.3 1271.7,718.2 1271.0,715.1 1270.3,711.9 1269.5,708.8 1268.6,705.7 1267.8,702.6 1266.8,699.6 1265.9,696.5 1264.9,693.5 1263.8,690.5 1262.8,687.4 1261.6,684.5 1260.5,681.5 1259.3,678.5 1258.0,675.6 1256.7,672.7 1255.4,669.8 1254.1,666.9 1252.7,664.0 1251.2,661.2 1249.8,658.4 1248.2,655.6 1246.7,652.8 1245.1,650.0 1243.5,647.3 1241.8,644.6 1240.1,641.9 1238.4,639.2 1236.7,636.6 1234.9,633.9 1233.0,631.3 1231.2,628.8 1229.3,626.2 1227.4,623.7 1225.4,621.2 1223.4,618.7 1221.4,616.2 1219.4,613.8 1217.3,611.4 1215.2,609.0 1213.0,606.7 1210.9,604.3 1208.7,602.0 1206.4,599.8 1204.2,597.5 1201.9,595.3 1199.6,593.1 1197.3,591.0 1194.9,588.8 1192.5,586.7 1190.1,584.6 1187.7,582.6 1185.2,580.6 1182.7,578.6 1180.2,576.6 1177.7,574.7 1175.1,572.8 1172.5,571.0 1169.9,569.1 1167.3,567.3 1164.7,565.6 1162.0,563.9 1159.3,562.2 1156.6,560.5 1153.9,558.9 1151.2,557.3 1148.4,555.7 1145.6,554.2 1142.8,552.7 1140.0,551.2 1137.2,549.8 1134.3,548.4 1131.4,547.1 1128.6,545.7 1125.7,544.5 1122.7,543.2 1119.8,542.0 1116.9,540.8 1113.9,539.7 1110.9,538.6 1107.9,537.6 1104.9,536.6 1101.9,535.6 1098.9,534.6 1095.9,533.8 1092.8,532.9 1089.8,532.1 1086.7,531.3 1083.6,530.6 1080.5,529.9 1077.4,529.2 1074.3,528.6 1071.2,528.0 1068.1,527.5 1064.9,527.0 1061.8,526.6 1058.7,526.2 1055.5,525.9 1052.4,525.5 1049.2,525.3 1046.0,525.1 1042.8,524.9 1039.7,524.8 1036.5,524.7 1033.3,524.6 1030.1,524.6 1026.9,524.7 1023.7,524.8 1020.5,524.9 1017.3,525.1 1014.1,525.4 1010.9,525.7 1007.7,526.0 1004.5,526.4 1001.3,526.8 998.1,527.3 995.0,527.8 991.8,528.4 988.6,529.0 985.4,529.6 982.3,530.3 979.1,531.1 976.0,531.8 972.9,532.7 969.8,533.5 966.7,534.5 963.6,535.4 960.5,536.4 957.4,537.5 954.4,538.6 951.3,539.7 948.3,540.9 945.3,542.1 942.4,543.3 939.4,544.6 936.5,546.0 933.5,547.4 930.7,548.8 927.8,550.3 924.9,551.8 922.1,553.3 919.3,554.9 916.6,556.5 913.8,558.2 911.1,559.9 908.4,561.7 905.8,563.5 903.1,565.3 900.5,567.2 898.0,569.1 895.4,571.0 893.0,573.0 890.5,575.0 888.1,577.1 885.7,579.2 883.3,581.3 881.0,583.5 878.7,585.7 876.5,588.0 874.3,590.2 872.2,592.6 870.1,594.9 868.0,597.3 866.0,599.8 864.0,602.2 862.1,604.7 860.2,607.3 858.3,609.8 856.5,612.4 854.8,615.0 853.1,617.7 851.4,620.4 849.8,623.1 848.2,625.8 846.7,628.6 845.2,631.4 843.8,634.2 842.4,637.0 841.1,639.9 839.8,642.8 838.6,645.7 837.4,648.6 836.3,651.6 835.2,654.5 834.2,657.5 833.3,660.5 832.3,663.5 831.5,666.6 830.7,669.6 829.9,672.7 829.2,675.8 828.6,678.9 828.0,682.0 827.5,685.1 827.0,688.2 826.6,691.3 826.2,694.5 825.9,697.6 825.7,700.8 825.5,703.9 825.3,707.1 825.2,710.3 825.2,713.5 825.2,716.6 825.3,719.8 825.4,723.0 825.6,726.2 825.8,729.4 826.1,732.5 826.5,735.7 826.9,738.9 827.3,742.0 827.8,745.2 828.4,748.4 829.0,751.5 829.6,754.6 830.3,757.8 831.1,760.9 831.9,764.0 832.7,767.1 833.6,770.2 834.6,773.2 835.6,776.3 836.6,779.3 837.7,782.4 838.8,785.4 840.0,788.3 841.3,791.3 842.6,794.3 843.9,797.2 845.3,800.1 846.7,803.0 848.2,805.8 849.7,808.7 851.3,811.5 852.9,814.3 854.5,817.0 856.2,819.8 858.0,822.4 859.8,825.1 861.6,827.8 863.5,830.4 865.4,832.9 867.4,835.5 869.4,838.0 871.4,840.5 873.5,842.9 875.7,845.3 877.8,847.7 880.1,850.0" fill="none" stroke="#0000ff" stroke-opacity="0.65" stroke-width="2.0" stroke-linejoin="round"/>
<path d="M1253.8,873.8 1252.5,876.6 1251.2,879.4 1249.9,882.2 1248.4,885.0 1247.0,887.8 1245.5,890.5 1244.0,893.2 1242.4,895.9 1240.8,898.6 1239.1,901.3 1237.4,904.0 1235.6,906.6 1233.8,909.2 1232.0,911.8 1230.1,914.4 1228.2,916.9 1226.3,919.5 1224.3,922.0 1222.2,924.4 1220.2,926.9 1218.1,929.3 1216.0,931.8 1213.8,934.1 1211.6,936.5 1209.3,938.8 1207.1,941.1 1204.8,943.4 1202.4,945.7 1200.1,947.9 1197.7,950.1 1195.3,952.3 1192.8,954.4 1190.3,956.5 1187.8,958.6 1185.3,960.6 1182.7,962.6 1180.1,964.6 1177.5,966.6 1174.9,968.5 1172.2,970.3 1169.5,972.2 1166.8,974.0 1164.1,975.8 1161.3,977.5 1158.5,979.2 1155.7,980.9 1152.9,982.5 1150.1,984.1 1147.2,985.6 1144.3,987.1 1141.4,988.6 1138.5,990.0 1135.6,991.4 1132.7,992.7 1129.7,994.0 1126.7,995.3 1123.7,996.5 1120.7,997.7 1117.7,998.8 1114.7,999.9 1111.7,1000.9 1108.6,1001.9 1105.6,1002.9 1102.5,1003.8 1099.4,1004.6 1096.3,1005.4 1093.2,1006.2 1090.1,1006.9 1087.0,1007.6 1083.9,1008.2 1080.8,1008.7 1077.7,1009.2 1074.5,1009.7 1071.4,1010.1 1068.3,1010.4 1065.1,1010.7 1062.0,1011.0 1058.9,1011.1 1055.7,1011.3 1052.6,1011.4 1049.4,1011.4 1046.3,1011.3 1043.2,1011.3 1040.0,1011.1 1036.9,1010.9 1033.8,1010.7 1030.7,1010.3 1027.5,1010.0 1024.4,1009.5 1021.3,1009.1 1018.2,1008.5 1015.2,1007.9 1012.1,1007.3 1009.0,1006.6 1006.0,1005.9 1003.0,1005.1 999.9,1004.2 996.9,1003.3 993.9,1002.3 991.0,1001.3 988.0,1000.3 985.1,999.2 982.2,998.0 979.3,996.8 976.4,995.5 973.5,994.2 970.7,992.8 967.9,991.4 965.1,989.9 962.3,988.4 959.6,986.9 956.9,985.3 954.2,983.6 951.5,981.9 948.9,980.1 946.3,978.3 943.7,976.5 941.2,974.6 938.7,972.6 936.2,970.7 933.8,968.6 931.4,966.5 929.0,964.4 926.7,962.2 924.4,960.0 922.1,957.8 919.9,955.5 917.7,953.1 915.6,950.8 913.5,948.3 911.4,945.9 909.4,943.4 907.4,940.9 905.5,938.3 903.6,935.7 901.7,933.1 899.9,930.4 898.1,927.7 896.4,925.0 894.7,922.3 893.0,919.5 891.4,916.7 889.8,913.9 888.3,911.0 886.8,908.1 885.4,905.2 884.0,902.3 882.6,899.4 881.3,896.4 880.1,893.4 878.8,890.5 877.7,887.4 876.6,884.4 875.5,881.4 874.5,878.3 873.5,875.3 872.6,872.2 871.7,869.1 870.8,866.0 870.1,862.9 869.3,859.8 868.6,856.7 868.0,853.5 867.4,850.4 866.9,847.3 866.4,844.1 866.0,841.0 865.6,837.9 865.2,834.7 864.9,831.6 864.7,828.4 864.5,825.2 864.3,822.1 864.2,818.9 864.2,815.8 864.2,812.6 864.2,809.5 864.3,806.3 864.4,803.1 864.6,800.0 864.8,796.8 865.0,793.7 865.3,790.5 865.7,787.4 866.1,784.3 866.5,781.1 866.9,778.0 867.5,774.9 868.0,771.8 868.6,768.6 869.2,765.5 869.9,762.4 870.6,759.4 871.4,756.3 872.2,753.2 873.0,750.1 873.9,747.1 874.8,744.0 875.8,741.0 876.8,738.0 877.8,735.0 878.9,732.0 880.0,729.0 881.1,726.0 882.3,723.1 883.5,720.1 884.8,717.2 886.1,714.2 887.4,711.3 888.8,708.5 890.2,705.6 891.6,702.7 893.1,699.9 894.6,697.1 896.1,694.2 897.7,691.5 899.3,688.7 900.9,685.9 902.6,683.2 904.3,680.5 906.0,677.8 907.8,675.1 909.6,672.5 911.4,669.8 913.3,667.2 915.2,664.7 917.1,662.1 919.1,659.6 921.1,657.0 923.1,654.6 925.1,652.1 927.2,649.7 929.3,647.2 931.4,644.8 933.6,642.5 935.7,640.2 937.9,637.8 940.2,635.6 942.4,633.3 944.7,631.1 947.0,628.9 949.4,626.7 951.8,624.6 954.1,622.5 956.6,620.4 959.0,618.4 961.5,616.4 964.0,614.4 966.5,612.5 969.0,610.6 971.6,608.7 974.2,606.8 976.8,605.0 979.4,603.3 982.1,601.5 984.7,599.8 987.4,598.2 990.1,596.5 992.9,594.9 995.6,593.4 998.4,591.9 1001.2,590.4 1004.0,589.0 1006.9,587.6 1009.7,586.2 1012.6,584.9 1015.5,583.6 1018.4,582.4 1021.3,581.2 1024.2,580.0 1027.2,578.9 1030.2,577.9 1033.2,576.8 1036.2,575.9 1039.2,574.9 1042.3,574.0 1045.3,573.2 1048.4,572.4 1051.5,571.7 1054.6,571.0 1057.7,570.3 1060.8,569.7 1064.0,569.1 1067.1,568.6 1070.3,568.2 1073.5,567.7 1076.7,567.4 1079.9,567.1 1083.1,566.8 1086.3,566.6 1089.6,566.4 1092.8,566.3 1096.1,566.3 1099.4,566.3 1102.6,566.3 1105.9,566.4 1109.2,566.6 1112.5,566.8 1115.9,567.1" fill="none" stroke="#0000ff" stroke-opacity="0.45" stroke-width="2.0" stroke-dasharray="7.3,3.7" stroke-linejoin="round"/>
<path d="M1209.3,1160.9 1206.0,1159.9 1202.9,1158.7 1199.8,1157.5 1196.8,1156.1 1193.9,1154.6 1191.1,1153.0 1188.5,1151.3 1185.9,1149.5 1183.4,1147.6 1180.9,1145.7 1178.6,1143.6 1176.4,1141.5 1174.2,1139.2 1172.1,1136.9 1170.2,1134.5 1168.2,1132.1 1166.4,1129.6 1164.6,1127.0 1163.0,1124.3 1161.3,1121.6 1159.8,1118.9 1158.3,1116.0 1156.9,1113.2 1155.6,1110.3 1154.3,1107.3 1153.1,1104.3 1151.9,1101.3 1150.8,1098.2 1149.8,1095.2 1148.8,1092.0 1147.9,1088.9 1147.0,1085.7 1146.1,1082.6 1145.4,1079.4 1144.6,1076.2 1143.9,1073.0 1143.3,1069.7 1142.7,1066.5 1142.1,1063.3 1141.6,1060.1 1141.1,1056.9 1140.7,1053.7 1140.2,1050.5 1139.9,1047.3 1139.5,1044.1 1139.2,1040.8 1138.9,1037.6 1138.7,1034.4 1138.5,1031.2 1138.3,1028.0 1138.1,1024.8 1138.0,1021.6 1137.9,1018.4 1137.8,1015.2 1137.7,1012.0 1137.7,1008.8 1137.7,1005.6 1137.7,1002.4 1137.7,999.2 1137.8,996.0 1137.9,992.8 1138.0,989.6 1138.1,986.4 1138.2,983.2 1138.3,980.0 1138.5,976.8 1138.6,973.6 1138.8,970.4 1139.0,967.2 1139.2,964.0 1139.4,960.8 1139.6,957.6 1139.8,954.4 1140.1,951.2 1140.3,948.0 1140.5,944.8 1140.8,941.6 1141.0,938.4 1141.2,935.3 1141.5,932.1 1141.7,928.9 1142.0,925.7 1142.2,922.5 1142.4,919.3 1142.7,916.1 1142.9,912.9 1143.1,909.7 1143.3,906.5 1143.6,903.3 1143.8,900.1 1144.0,896.9 1144.2,893.7 1144.4,890.5 1144.6,887.2 1144.7,884.0 1144.9,880.8 1145.1,877.6 1145.2,874.4 1145.4,871.2 1145.5,868.0 1145.6,864.8 1145.7,861.5 1145.8,858.3 1145.9,855.1 1146.0,851.9 1146.1,848.6 1146.1,845.4 1146.2,842.2 1146.2,838.9 1146.2,835.7 1146.2,832.4 1146.2,829.2 1146.1,826.0 1146.0,822.7 1145.9,819.5 1145.8,816.3 1145.6,813.0 1145.3,809.8 1145.0,806.6 1144.7,803.4 1144.3,800.2 1143.9,797.1 1143.4,793.9 1142.8,790.8 1142.2,787.6 1141.5,784.5 1140.7,781.4 1139.9,778.4 1139.0,775.3 1137.9,772.3 1136.8,769.3 1135.6,766.3 1134.4,763.3 1133.0,760.4 1131.5,757.5 1129.9,754.7 1128.2,751.9 1126.4,749.2 1124.6,746.5 1122.6,743.9 1120.5,741.4 1118.3,739.1 1116.0,736.8 1113.6,734.6 1111.1,732.6 1108.5,730.8 1105.8,729.1 1103.1,727.5 1100.2,726.1 1097.2,724.9 1094.2,723.8 1091.1,722.9 1088.0,722.1 1084.8,721.5 1081.6,721.0 1078.4,720.7 1075.1,720.6 1071.9,720.6 1068.7,720.8 1065.5,721.1 1062.3,721.5 1059.2,722.2 1056.1,722.9 1053.0,723.8 1050.0,724.8 1047.1,726.0 1044.1,727.2 1041.2,728.6 1038.4,730.0 1035.5,731.5 1032.7,733.1 1029.9,734.7 1027.2,736.4 1024.4,738.1 1021.7,739.9 1019.0,741.7 1016.3,743.5 1013.6,745.3 1011.0,747.2 1008.3,749.0 1005.7,750.9 1003.0,752.8 1000.4,754.6 997.8,756.6 995.2,758.5 992.6,760.4 990.1,762.3 987.5,764.3 985.0,766.2 982.4,768.2 979.9,770.2 977.4,772.2 974.9,774.2 972.4,776.2 969.9,778.2 967.4,780.2 964.9,782.3 962.4,784.3 960.0,786.4 957.5,788.4 955.0,790.5 952.6,792.6 950.1,794.6 947.7,796.7 945.3,798.8 942.8,800.9 940.4,803.0 938.0,805.1 935.6,807.2 933.2,809.3 930.8,811.4 928.3,813.5 925.9,815.6 923.5,817.7 921.1,819.8 918.7,822.0 916.3,824.1 913.9,826.2 911.5,828.3 909.1,830.4 906.6,832.5 904.2,834.6 901.8,836.7 899.4,838.8 896.9,840.9 894.5,843.0 892.1,845.1 889.6,847.1 887.2,849.2 884.7,851.2 882.2,853.3 879.8,855.3 877.3,857.4 874.8,859.4 872.3,861.4 869.7,863.4 867.2,865.4 864.7,867.3 862.1,869.3 859.6,871.3 857.0,873.2 854.4,875.1 851.8,877.0 849.2,878.9 846.6,880.8 843.9,882.6 841.3,884.5 838.6,886.3 835.9,888.1 833.2,889.9 830.4,891.6 827.7,893.3 824.9,895.0 822.2,896.7 819.4,898.3 816.6,900.0 813.7,901.5 810.9,903.1 808.0,904.5 805.1,906.0 802.2,907.4 799.3,908.8 796.4,910.1 793.4,911.3 790.5,912.5 787.5,913.7 784.5,914.8 781.5,915.8 778.4,916.8 775.4,917.7 772.3,918.6 769.2,919.4 766.1,920.1 763.0,920.7 759.8,921.3 756.7,921.8 753.5,922.2 750.3,922.6 747.0,922.8 743.8,923.0 740.5,923.1 737.3,923.1 734.0,923.0 730.7,922.9 727.4,922.6 724.2,922.1 721.0,921.6 717.8,920.9 714.7,920.0 711.6,919.0 708.7,917.8 705.8,916.4 703.0,914.9 700.3,913.1 697.8,911.2 695.4,909.0 693.1,906.6 691.0,903.9 689.0,901.0" fill="none" stroke="#000000" stroke-opacity="0.65" stroke-width="2.0" stroke-linejoin="round"/>
<path d="M1209.3,1160.9 1212.8,1161.2 1216.2,1161.1 1219.5,1160.8 1222.7,1160.2 1225.9,1159.4 1228.9,1158.3 1231.8,1156.9 1234.6,1155.4 1237.2,1153.6 1239.7,1151.7 1242.0,1149.6 1244.1,1147.3 1246.0,1144.9 1247.7,1142.3 1249.3,1139.6 1250.8,1136.8 1252.0,1133.9 1253.2,1130.9 1254.2,1127.9 1255.0,1124.8 1255.7,1121.6 1256.3,1118.4 1256.8,1115.1 1257.2,1111.9 1257.5,1108.6 1257.6,1105.4 1257.7,1102.2 1257.6,1099.0 1257.5,1095.8 1257.3,1092.6 1257.0,1089.5 1256.6,1086.4 1256.1,1083.3 1255.6,1080.2 1254.9,1077.1 1254.2,1074.0 1253.4,1071.0 1252.6,1067.9 1251.6,1064.9 1250.7,1061.9 1249.6,1059.0 1248.5,1056.0 1247.3,1053.1 1246.1,1050.1 1244.8,1047.2 1243.4,1044.3 1242.1,1041.4 1240.6,1038.6 1239.1,1035.7 1237.6,1032.9 1236.1,1030.1 1234.5,1027.3 1232.8,1024.5 1231.2,1021.7 1229.5,1019.0 1227.7,1016.2 1226.0,1013.5 1224.2,1010.8 1222.4,1008.1 1220.6,1005.4 1218.8,1002.7 1217.0,1000.1 1215.1,997.4 1213.3,994.8 1211.4,992.2 1209.5,989.6 1207.6,987.0 1205.7,984.5 1203.8,981.9 1201.9,979.3 1200.0,976.8 1198.1,974.3 1196.1,971.8 1194.2,969.2 1192.2,966.7 1190.3,964.2 1188.3,961.8 1186.3,959.3 1184.4,956.8 1182.4,954.4 1180.4,951.9 1178.4,949.4 1176.4,947.0 1174.4,944.6 1172.3,942.1 1170.3,939.7 1168.3,937.3 1166.3,934.8 1164.2,932.4 1162.2,930.0 1160.1,927.6 1158.1,925.2 1156.0,922.7 1154.0,920.3 1151.9,917.9 1149.9,915.5 1147.8,913.1 1145.7,910.6 1143.6,908.2 1141.6,905.8 1139.5,903.4 1137.4,900.9 1135.3,898.5 1133.2,896.0 1131.2,893.6 1129.1,891.1 1127.0,888.7 1124.9,886.2 1122.9,883.7 1120.8,881.3 1118.8,878.8 1116.8,876.3 1114.8,873.8 1112.9,871.2 1110.9,868.7 1109.0,866.1 1107.1,863.6 1105.3,861.0 1103.5,858.4 1101.7,855.7 1100.0,853.1 1098.3,850.5 1096.7,847.8 1095.1,845.1 1093.5,842.4 1092.0,839.7 1090.4,836.9 1088.9,834.2 1087.3,831.5 1085.8,828.8 1084.2,826.0 1082.6,823.3 1081.0,820.6 1079.5,817.8 1078.0,815.0 1076.4,812.2 1075.0,809.4 1073.5,806.5 1072.1,803.6 1070.8,800.7 1069.5,797.7 1068.2,794.7 1067.0,791.6 1065.9,788.5 1064.9,785.3 1064.0,782.2 1063.2,779.0 1062.5,775.8 1061.9,772.6 1061.4,769.4 1061.1,766.2 1060.9,763.0 1060.9,759.8 1061.0,756.7 1061.3,753.6 1061.8,750.6 1062.5,747.6 1063.4,744.6 1064.5,741.8 1065.8,739.0 1067.3,736.2 1069.0,733.6 1070.9,731.0 1073.0,728.6 1075.2,726.2 1077.5,723.9 1080.0,721.7 1082.6,719.7 1085.2,717.7 1087.9,715.8 1090.7,714.1 1093.5,712.5 1096.3,710.9 1099.2,709.5 1102.1,708.2 1105.0,707.0 1108.0,705.9 1111.0,704.9 1114.0,704.0 1117.1,703.1 1120.1,702.4 1123.2,701.7 1126.3,701.1 1129.5,700.6 1132.6,700.1 1135.8,699.7 1139.0,699.4 1142.1,699.1 1145.3,698.9 1148.6,698.7 1151.8,698.6 1155.0,698.5 1158.2,698.5 1161.4,698.5 1164.7,698.5 1167.9,698.5 1171.1,698.6 1174.3,698.7 1177.5,698.8 1180.8,698.9 1184.0,699.1 1187.2,699.2 1190.4,699.4 1193.6,699.6 1196.7,699.8 1199.9,700.0 1203.1,700.2 1206.3,700.5 1209.5,700.7 1212.7,701.0 1215.8,701.2 1219.0,701.5 1222.2,701.8 1225.3,702.1 1228.5,702.4 1231.7,702.7 1234.8,703.0 1238.0,703.3 1241.1,703.7 1244.3,704.0 1247.5,704.3 1250.6,704.7 1253.8,705.0 1256.9,705.3 1260.1,705.7 1263.3,706.0 1266.4,706.4 1269.6,706.7 1272.7,707.1 1275.9,707.4 1279.1,707.7 1282.2,708.1 1285.4,708.4 1288.6,708.7 1291.8,709.0 1294.9,709.3 1298.1,709.6 1301.3,709.9 1304.5,710.2 1307.6,710.5 1310.8,710.8 1314.0,711.0 1317.2,711.3 1320.4,711.5 1323.6,711.8 1326.8,712.0 1329.9,712.2 1333.1,712.4 1336.3,712.5 1339.5,712.7 1342.7,712.8 1345.9,713.0 1349.1,713.1 1352.3,713.2 1355.5,713.2 1358.6,713.3 1361.8,713.3 1365.0,713.3 1368.2,713.3 1371.4,713.3 1374.6,713.2 1377.8,713.1 1381.0,713.0 1384.1,712.9 1387.3,712.8 1390.5,712.6 1393.7,712.4 1396.9,712.1 1400.0,711.9 1403.2,711.6 1406.4,711.2 1409.6,710.9 1412.7,710.5 1415.9,710.1 1419.1,709.7 1422.2,709.2 1425.4,708.6 1428.6,708.1 1431.7,707.5 1434.8,706.8 1438.0,706.1 1441.1,705.4 1444.1,704.6 1447.2,703.7 1450.3,702.8 1453.3,701.8 1456.3,700.8 1459.3,699.7 1462.2,698.5 1465.1,697.3 1468.0,696.0 1470.9,694.6 1473.7,693.1 1476.4,691.5 1479.2,689.9 1481.9,688.1 1484.5,686.3 1487.1,684.4 1489.7,682.4" fill="none" stroke="#000000" stroke-opacity="0.45" stroke-width="2.0" stroke-dasharray="7.3,3.7" stroke-linejoin="round"/>
<path d="M648.0,411.0 647.6,410.8 647.2,410.7 646.8,410.5 646.4,410.3 646.0,410.1 645.6,409.9 645.2,409.7 644.9,409.5 644.5,409.3 644.1,409.1 643.7,408.9 643.3,408.7 642.9,408.5 642.6,408.3 642.2,408.1 641.8,407.9 641.4,407.7 641.0,407.5 640.7,407.3 640.3,407.1 639.9,406.8 639.5,406.6 639.2,406.4 638.8,406.2 638.4,406.0 638.1,405.7 637.7,405.5 637.3,405.3 636.9,405.0 636.6,404.8 636.2,404.6 635.8,404.3 635.5,404.1 635.1,403.9 634.8,403.6 634.4,403.4 634.0,403.1 633.7,402.9 633.3,402.6 633.0,402.4 632.6,402.1 632.2,401.9 631.9,401.6 631.5,401.4 631.2,401.1 630.8,400.9 630.5,400.6 630.1,400.3 629.8,400.1 629.4,399.8 629.1,399.5 628.7,399.3 628.4,399.0 628.1,398.7 627.7,398.5 627.4,398.2 627.0,397.9 626.7,397.6 626.4,397.4 626.0,397.1 625.7,396.8 625.3,396.5 625.0,396.2 624.7,395.9 624.3,395.7 624.0,395.4 623.7,395.1 623.3,394.8 623.0,394.5 622.7,394.2 622.4,393.9 622.0,393.6 621.7,393.3 621.4,393.0 621.1,392.7 620.7,392.4 620.4,392.1 620.1,391.8 619.8,391.5 619.5,391.2 619.1,390.9 618.8,390.6 618.5,390.3 618.2,390.0 617.9,389.6 617.6,389.3 617.3,389.0 617.0,388.7 616.7,388.4 616.3,388.0 616.0,387.7 615.7,387.4 615.4,387.1 615.1,386.8 614.8,386.4 614.5,386.1 614.2,385.8 613.9,385.4 613.6,385.1 613.3,384.8 613.0,384.4 612.7,384.1 612.4,383.8 612.2,383.4 611.9,383.1 611.6,382.8 611.3,382.4 611.0,382.1 610.7,381.7 610.4,381.4 610.1,381.1 609.9,380.7 609.6,380.4 609.3,380.0 609.0,379.7 608.7,379.3 608.5,379.0 608.2,378.6 607.9,378.3 607.6,377.9 607.4,377.5 607.1,377.2 606.8,376.8 606.5,376.5 606.3,376.1 606.0,375.8 605.7,375.4 605.5,375.0 605.2,374.7 605.0,374.3 604.7,373.9 604.4,373.6 604.2,373.2 603.9,372.8 603.7,372.5 603.4,372.1 603.1,371.7 602.9,371.4 602.6,371.0 602.4,370.6 602.1,370.2 601.9,369.9 601.6,369.5 601.4,369.1 601.1,368.7 600.9,368.3 600.7,368.0 600.4,367.6 600.2,367.2 599.9,366.8 599.7,366.4 599.5,366.1 599.2,365.7 599.0,365.3 598.8,364.9 598.5,364.5 598.3,364.1 598.1,363.7 597.8,363.4 597.6,363.0 597.4,362.6 597.2,362.2 596.9,361.8 596.7,361.4 596.5,361.0 596.3,360.6 596.1,360.2 595.8,359.8 595.6,359.4 595.4,359.0 595.2,358.6 595.0,358.2 594.8,357.8 594.6,357.4 594.3,357.0 594.1,356.6 593.9,356.2 593.7,355.8 593.5,355.4 593.3,355.0 593.1,354.6 592.9,354.2 592.7,353.8 592.5,353.4 592.3,353.0 592.1,352.6 591.9,352.2 591.7,351.8 591.6,351.4 591.4,351.0 591.2,350.5 591.0,350.1 590.8,349.7 590.6,349.3 590.4,348.9 590.3,348.5 590.1,348.1 589.9,347.7 589.7,347.2 589.5,346.8 589.4,346.4 589.2,346.0 589.0,345.6 588.8,345.2 588.7,344.8 588.5,344.3 588.3,343.9 588.2,343.5 588.0,343.1 587.8,342.7 587.7,342.2 587.5,341.8 587.4,341.4 587.2,341.0 587.0,340.6 586.9,340.1 586.7,339.7 586.6,339.3 586.4,338.9 586.3,338.5 586.1,338.0 586.0,337.6 585.8,337.2 585.7,336.8 585.6,336.3 585.4,335.9 585.3,335.5 585.1,335.1 585.0,334.7 584.9,334.2 584.7,333.8 584.6,333.4 584.5,333.0 584.3,332.5 584.2,332.1 584.1,331.7 583.9,331.2 583.8,330.8 583.7,330.4 583.6,330.0 583.4,329.5 583.3,329.1 583.2,328.7 583.1,328.3 583.0,327.8 582.9,327.4 582.8,327.0 582.6,326.5 582.5,326.1 582.4,325.7 582.3,325.3 582.2,324.8 582.1,324.4 582.0,324.0 581.9,323.5 581.8,323.1 581.7,322.7 581.6,322.3 581.5,321.8 581.4,321.4 581.3,321.0 581.2,320.5 581.1,320.1 581.1,319.7 581.0,319.3 580.9,318.8 580.8,318.4 580.7,318.0 580.6,317.5 580.6,317.1 580.5,316.7 580.4,316.3 580.3,315.8 580.2,315.4 580.2,315.0 580.1,314.5 580.0,314.1 580.0,313.7 579.9,313.2 579.8,312.8 579.8,312.4 579.7,312.0 579.7,311.5 579.6,311.1 579.5,310.7 579.5,310.3 579.4,309.8 579.4,309.4 579.3,309.0 579.3,308.5 579.2,308.1 579.2,307.7 579.1,307.3 579.1,306.8 579.0,306.4 579.0,306.0 579.0,305.6 578.9,305.1 578.9,304.7" fill="none" stroke="#FFD700" stroke-opacity="0.6" stroke-width="2.0" stroke-linejoin="round"/>
<path d="M648.0,411.0 649.2,411.6 650.4,412.1 651.6,412.5 652.8,413.0 654.0,413.5 655.2,413.9 656.4,414.4 657.6,414.8 658.8,415.2 660.0,415.6 661.2,416.0 662.4,416.4 663.6,416.8 664.8,417.1 666.0,417.5 667.3,417.8 668.5,418.2 669.7,418.5 670.9,418.8 672.1,419.1 673.3,419.3 674.5,419.6 675.7,419.9 677.0,420.1 678.2,420.4 679.4,420.6 680.6,420.8 681.8,421.0 683.0,421.2 684.3,421.4 685.5,421.6 686.7,421.8 687.9,421.9 689.1,422.1 690.4,422.2 691.6,422.4 692.8,422.5 694.0,422.6 695.3,422.7 696.5,422.8 697.7,422.9 698.9,423.0 700.2,423.1 701.4,423.1 702.6,423.2 703.8,423.2 705.1,423.3 706.3,423.3 707.5,423.3 708.7,423.3 710.0,423.4 711.2,423.4 712.4,423.3 713.6,423.3 714.9,423.3 716.1,423.3 717.3,423.2 718.5,423.2 719.8,423.2 721.0,423.1 722.2,423.0 723.5,423.0 724.7,422.9 725.9,422.8 727.1,422.7 728.4,422.6 729.6,422.5 730.8,422.4 732.0,422.3 733.3,422.2 734.5,422.0 735.7,421.9 737.0,421.8 738.2,421.6 739.4,421.5 740.6,421.3 741.9,421.2 743.1,421.0 744.3,420.8 745.5,420.7 746.8,420.5 748.0,420.3 749.2,420.1 750.4,419.9 751.6,419.7 752.9,419.5 754.1,419.3 755.3,419.1 756.5,418.9 757.8,418.7 759.0,418.5 760.2,418.2 761.4,418.0 762.6,417.8 763.9,417.5 765.1,417.3 766.3,417.1 767.5,416.8 768.7,416.6 769.9,416.3 771.2,416.0 772.4,415.8 773.6,415.5 774.8,415.3 776.0,415.0 777.2,414.7 778.5,414.4 779.7,414.2 780.9,413.9 782.1,413.6 783.3,413.3 784.5,413.0 785.7,412.7 786.9,412.4 788.1,412.1 789.4,411.8 790.6,411.5 791.8,411.2 793.0,410.9 794.2,410.6 795.4,410.2 796.6,409.9 797.8,409.6 799.0,409.3 800.2,408.9 801.4,408.6 802.6,408.3 803.8,407.9 805.0,407.6 806.2,407.2 807.4,406.9 808.6,406.6 809.8,406.2 811.1,405.8 812.3,405.5 813.5,405.1 814.7,404.8 815.9,404.4 817.1,404.0 818.3,403.7 819.5,403.3 820.6,402.9 821.8,402.6 823.0,402.2 824.2,401.8 825.4,401.4 826.6,401.0 827.8,400.6 829.0,400.3 830.2,399.9 831.4,399.5 832.6,399.1 833.8,398.7 835.0,398.3 836.2,397.9 837.4,397.5 838.6,397.1 839.8,396.7 841.0,396.3 842.1,395.8 843.3,395.4 844.5,395.0 845.7,394.6 846.9,394.2 848.1,393.8 849.3,393.3 850.5,392.9 851.7,392.5 852.8,392.1 854.0,391.6 855.2,391.2 856.4,390.8 857.6,390.3 858.8,389.9 860.0,389.5 861.1,389.0 862.3,388.6 863.5,388.2 864.7,387.7 865.9,387.3 867.1,386.8 868.2,386.4 869.4,385.9 870.6,385.5 871.8,385.0 873.0,384.6 874.1,384.1 875.3,383.7 876.5,383.2 877.7,382.8 878.9,382.3 880.0,381.9 881.2,381.4 882.4,381.0 883.6,380.5 884.7,380.0 885.9,379.6 887.1,379.1 888.3,378.6 889.4,378.2 890.6,377.7 891.8,377.3 893.0,376.8 894.1,376.3 895.3,375.9 896.5,375.4 897.7,374.9 898.8,374.4 900.0,374.0 901.2,373.5 902.4,373.0 903.5,372.6 904.7,372.1 905.9,371.6 907.0,371.1 908.2,370.7 909.4,370.2 910.5,369.7 911.7,369.2 912.9,368.8 914.0,368.3 915.2,367.8 916.4,367.3 917.5,366.9 918.7,366.4 919.9,365.9 921.0,365.4 922.2,365.0 923.4,364.5 924.5,364.0 925.7,363.5 926.9,363.0 928.0,362.6 929.2,362.1 930.4,361.6 931.5,361.1 932.7,360.7 933.8,360.2 935.0,359.7 936.2,359.2 937.3,358.8 938.5,358.3 939.6,357.8 940.8,357.3 942.0,356.9 943.1,356.4 944.3,355.9 945.4,355.4 946.6,355.0 947.8,354.5 948.9,354.0 950.1,353.5 951.2,353.1 952.4,352.6 953.5,352.1 954.7,351.7 955.8,351.2 957.0,350.7 958.2,350.3 959.3,349.8 960.5,349.3 961.6,348.9 962.8,348.4 963.9,347.9 965.1,347.5 966.2,347.0 967.4,346.5 968.5,346.1 969.7,345.6 970.8,345.2 972.0,344.7 973.1,344.3 974.3,343.8 975.4,343.3 976.6,342.9 977.7,342.4 978.9,342.0 980.0,341.5 981.2,341.1 982.3,340.6 983.5,340.2 984.6,339.8 985.8,339.3 986.9,338.9 988.1,338.4 989.2,338.0 990.4,337.6 991.5,337.1 992.7,336.7 993.8,336.3 994.9,335.8 996.1,335.4 997.2,335.0 998.4,334.5 999.5,334.1 1000.7,333.7 1001.8,333.3 1003.0,332.8 1004.1,332.4" fill="none" stroke="#FFD700" stroke-opacity="0.5" stroke-width="2.0" stroke-dasharray="7.3,3.7" stroke-linejoin="round"/>
<path d="M1004.1,332.4 L1066.5,288.5" fill="none" stroke="#FFD700" stroke-opacity="0.5" stroke-width="2" stroke-dasharray="7.3,3.7"/>
<path d="M1442,306.8 Q1448,310 1454,312" fill="none" stroke="#FF0000" stroke-opacity="0.6" stroke-width="2"/>
<path d="M1464,317 L1488.7,350.7" fill="none" stroke="#FF0000" stroke-opacity="0.5" stroke-width="2" stroke-dasharray="7.3,3.7"/>
<text x="1488.54" y="149.80" font-size="47.69" textLength="108.83" lengthAdjust="spacingAndGlyphs" fill="#000000" style="white-space:pre;" >2025</text>
<text x="1613.28" y="149.80" font-size="47.69" textLength="228.18" lengthAdjust="spacingAndGlyphs" fill="#000000" style="white-space:pre;" >November</text>
<text x="1855.54" y="149.80" font-size="47.69" textLength="53.63" lengthAdjust="spacingAndGlyphs" fill="#000000" style="white-space:pre;" >04</text>
<text x="1938.97" y="149.80" font-size="47.69" textLength="124.17" lengthAdjust="spacingAndGlyphs" fill="#000000" style="white-space:pre;" >06:30</text>
<text x="2078.37" y="149.80" font-size="47.69" textLength="59.54" lengthAdjust="spacingAndGlyphs" fill="#000000" style="white-space:pre;" >UT</text>
<text x="197.53" y="106.40" font-size="43.54" textLength="28.78" lengthAdjust="spacingAndGlyphs" fill="#000000" style="white-space:pre;" >R</text>
<text x="287.86" y="106.40" font-size="43.54" textLength="62.18" lengthAdjust="spacingAndGlyphs" fill="#000000" style="white-space:pre;" >lon</text>
<text x="410.97" y="106.40" font-size="43.54" textLength="52.22" lengthAdjust="spacingAndGlyphs" fill="#000000" style="white-space:pre;" >lat</text>
<text x="21.83" y="150.00" font-size="37.72" textLength="106.20" lengthAdjust="spacingAndGlyphs" fill="#3CB371" style="white-space:pre;" >Earth:</text>
<text x="163.35" y="150.00" font-size="37.72" textLength="77.47" lengthAdjust="spacingAndGlyphs" fill="#3CB371" style="white-space:pre;" >0.99</text>
<text x="298.16" y="150.00" font-size="37.72" textLength="54.71" lengthAdjust="spacingAndGlyphs" fill="#3CB371" style="white-space:pre;" >0.0</text>
<text x="410.40" y="150.00" font-size="37.72" textLength="54.68" lengthAdjust="spacingAndGlyphs" fill="#3CB371" style="white-space:pre;" >4.0</text>
<text x="21.94" y="209.75" font-size="37.72" textLength="96.27" lengthAdjust="spacingAndGlyphs" fill="#FF4500" style="white-space:pre;" >Mars:</text>
<text x="163.08" y="209.75" font-size="37.72" textLength="77.18" lengthAdjust="spacingAndGlyphs" fill="#FF4500" style="white-space:pre;" >1.50</text>
<text x="264.02" y="209.75" font-size="37.72" textLength="113.54" lengthAdjust="spacingAndGlyphs" fill="#FF4500" style="white-space:pre;" >-150.8</text>
<text x="423.05" y="209.75" font-size="37.72" textLength="68.03" lengthAdjust="spacingAndGlyphs" fill="#FF4500" style="white-space:pre;" >-1.3</text>
<text x="23.49" y="269.50" font-size="37.72" textLength="78.65" lengthAdjust="spacingAndGlyphs" fill="#FF0000" style="white-space:pre;" >STA:</text>
<text x="154.45" y="269.50" font-size="37.72" textLength="77.03" lengthAdjust="spacingAndGlyphs" fill="#FF0000" style="white-space:pre;" >0.97</text>
<text x="279.09" y="269.50" font-size="37.72" textLength="77.21" lengthAdjust="spacingAndGlyphs" fill="#FF0000" style="white-space:pre;" >49.4</text>
<text x="401.35" y="269.50" font-size="37.72" textLength="67.77" lengthAdjust="spacingAndGlyphs" fill="#FF0000" style="white-space:pre;" >-2.1</text>
<text x="22.39" y="329.25" font-size="37.72" textLength="75.24" lengthAdjust="spacingAndGlyphs" fill="#000000" style="white-space:pre;" >PSP:</text>
<text x="155.26" y="329.25" font-size="37.72" textLength="76.49" lengthAdjust="spacingAndGlyphs" fill="#000000" style="white-space:pre;" >0.72</text>
<text x="267.03" y="329.25" font-size="37.72" textLength="90.89" lengthAdjust="spacingAndGlyphs" fill="#000000" style="white-space:pre;" >-74.0</text>
<text x="415.82" y="329.25" font-size="37.72" textLength="54.04" lengthAdjust="spacingAndGlyphs" fill="#000000" style="white-space:pre;" >3.7</text>
<text x="21.88" y="389.00" font-size="37.72" textLength="89.54" lengthAdjust="spacingAndGlyphs" fill="#0000FF" style="white-space:pre;" >Bepi:</text>
<text x="168.26" y="389.00" font-size="37.72" textLength="76.62" lengthAdjust="spacingAndGlyphs" fill="#0000FF" style="white-space:pre;" >0.35</text>
<text x="280.03" y="389.00" font-size="37.72" textLength="90.58" lengthAdjust="spacingAndGlyphs" fill="#0000FF" style="white-space:pre;" >-37.3</text>
<text x="429.11" y="389.00" font-size="37.72" textLength="54.91" lengthAdjust="spacingAndGlyphs" fill="#0000FF" style="white-space:pre;" >2.0</text>
<text x="23.42" y="448.75" font-size="37.72" textLength="92.38" lengthAdjust="spacingAndGlyphs" fill="#008000" style="white-space:pre;" >SolO:</text>
<text x="160.05" y="448.75" font-size="37.72" textLength="77.38" lengthAdjust="spacingAndGlyphs" fill="#008000" style="white-space:pre;" >0.78</text>
<text x="282.58" y="448.75" font-size="37.72" textLength="77.16" lengthAdjust="spacingAndGlyphs" fill="#008000" style="white-space:pre;" >17.4</text>
<text x="406.49" y="448.75" font-size="37.72" textLength="76.94" lengthAdjust="spacingAndGlyphs" fill="#008000" style="white-space:pre;" >14.7</text>
<text x="22.57" y="508.50" font-size="37.72" textLength="107.17" lengthAdjust="spacingAndGlyphs" fill="#FFD700" style="white-space:pre;" >JUICE:</text>
<text x="161.96" y="508.50" font-size="37.72" textLength="76.62" lengthAdjust="spacingAndGlyphs" fill="#FFD700" style="white-space:pre;" >0.95</text>
<text x="272.47" y="508.50" font-size="37.72" textLength="99.50" lengthAdjust="spacingAndGlyphs" fill="#FFD700" style="white-space:pre;" >142.7</text>
<text x="419.23" y="508.50" font-size="37.72" textLength="68.54" lengthAdjust="spacingAndGlyphs" fill="#FFD700" style="white-space:pre;" >-6.9</text>
<text x="1091.99" y="48.70" font-size="37.72" textLength="61.52" lengthAdjust="spacingAndGlyphs" fill="#262626" style="white-space:pre;" >90°</text>
<text x="590.22" y="256.80" font-size="37.72" textLength="83.55" lengthAdjust="spacingAndGlyphs" fill="#262626" style="white-space:pre;" >135°</text>
<text x="1595.07" y="256.80" font-size="37.72" textLength="61.02" lengthAdjust="spacingAndGlyphs" fill="#262626" style="white-space:pre;" >45°</text>
<text x="381.43" y="759.80" font-size="37.72" textLength="53.05" lengthAdjust="spacingAndGlyphs" fill="#262626" style="white-space:pre;" >+/-</text>
<text x="446.31" y="759.80" font-size="37.72" textLength="83.55" lengthAdjust="spacingAndGlyphs" fill="#262626" style="white-space:pre;" >180°</text>
<text x="1802.83" y="760.20" font-size="37.72" textLength="38.53" lengthAdjust="spacingAndGlyphs" fill="#262626" style="white-space:pre;" >0°</text>
<text x="1854.20" y="760.20" font-size="37.72" textLength="98.30" lengthAdjust="spacingAndGlyphs" fill="#262626" style="white-space:pre;" >HEEQ</text>
<text x="1964.66" y="760.20" font-size="37.72" textLength="166.24" lengthAdjust="spacingAndGlyphs" fill="#262626" style="white-space:pre;" >longitude</text>
<text x="588.30" y="1264.60" font-size="37.72" textLength="12.71" lengthAdjust="spacingAndGlyphs" fill="#262626" style="white-space:pre;" >-</text>
<text x="613.12" y="1264.60" font-size="37.72" textLength="83.55" lengthAdjust="spacingAndGlyphs" fill="#262626" style="white-space:pre;" >135°</text>
<text x="1595.10" y="1264.20" font-size="37.72" textLength="12.71" lengthAdjust="spacingAndGlyphs" fill="#262626" style="white-space:pre;" >-</text>
<text x="1619.91" y="1264.20" font-size="37.72" textLength="61.02" lengthAdjust="spacingAndGlyphs" fill="#262626" style="white-space:pre;" >45°</text>
<text x="1091.60" y="1471.40" font-size="37.72" textLength="12.71" lengthAdjust="spacingAndGlyphs" fill="#262626" style="white-space:pre;" >-</text>
<text x="1115.93" y="1471.40" font-size="37.72" textLength="61.52" lengthAdjust="spacingAndGlyphs" fill="#262626" style="white-space:pre;" >90°</text>
<circle cx="1092.0" cy="750.0" r="678.3" fill="none" stroke="#ffffff" stroke-width="2.1"/>
<text x="753.06" y="260.00" font-size="33.28" textLength="48.18" lengthAdjust="spacingAndGlyphs" fill="#808080" style="white-space:pre;" >1.0</text>
<text x="853.65" y="405.20" font-size="33.28" textLength="48.06" lengthAdjust="spacingAndGlyphs" fill="#808080" style="white-space:pre;" >0.7</text>
<text x="921.96" y="501.30" font-size="33.28" textLength="47.69" lengthAdjust="spacingAndGlyphs" fill="#808080" style="white-space:pre;" >0.5</text>
<text x="989.95" y="598.30" font-size="33.28" textLength="48.00" lengthAdjust="spacingAndGlyphs" fill="#808080" style="white-space:pre;" >0.3</text>
<text x="1058.16" y="695.30" font-size="33.28" textLength="47.77" lengthAdjust="spacingAndGlyphs" fill="#808080" style="white-space:pre;" >0.1</text>
<text x="1307.51" y="248.00" font-size="28.98" textLength="26.82" lengthAdjust="spacingAndGlyphs" fill="#808080" style="white-space:pre;" fill-opacity="0.62">to</text>
<text x="1341.20" y="248.00" font-size="28.98" textLength="90.66" lengthAdjust="spacingAndGlyphs" fill="#808080" style="white-space:pre;" fill-opacity="0.62">Jupiter</text>
<text x="1336.49" y="244.30" font-size="28.98" textLength="31.27" lengthAdjust="spacingAndGlyphs" fill="#DA70D6" style="white-space:pre;" >L4</text>
<text x="1350.70" y="302.10" font-size="28.98" textLength="135.64" lengthAdjust="spacingAndGlyphs" fill="#FF0000" style="white-space:pre;" >STEREO-A</text>
<text x="1461.06" y="698.80" font-size="28.98" textLength="69.07" lengthAdjust="spacingAndGlyphs" fill="#008000" style="white-space:pre;" >Solar</text>
<text x="1538.27" y="698.80" font-size="28.98" textLength="96.08" lengthAdjust="spacingAndGlyphs" fill="#008000" style="white-space:pre;" >Orbiter</text>
<text x="1020.25" y="1195.40" font-size="28.98" textLength="87.83" lengthAdjust="spacingAndGlyphs" fill="#000000" style="white-space:pre;" >Parker</text>
<text x="1116.64" y="1195.40" font-size="28.98" textLength="69.07" lengthAdjust="spacingAndGlyphs" fill="#000000" style="white-space:pre;" >Solar</text>
<text x="1194.10" y="1195.40" font-size="28.98" textLength="77.46" lengthAdjust="spacingAndGlyphs" fill="#000000" style="white-space:pre;" >Probe</text>
<text x="1171.57" y="950.30" font-size="28.98" textLength="59.18" lengthAdjust="spacingAndGlyphs" fill="#0000FF" style="white-space:pre;" >Bepi</text>
<text x="1239.91" y="950.30" font-size="28.98" textLength="119.49" lengthAdjust="spacingAndGlyphs" fill="#0000FF" style="white-space:pre;" >Colombo</text>
<text x="525.21" y="1058.70" font-size="28.98" textLength="26.82" lengthAdjust="spacingAndGlyphs" fill="#FF0000" style="white-space:pre;" >to</text>
<text x="561.04" y="1058.70" font-size="28.98" textLength="64.67" lengthAdjust="spacingAndGlyphs" fill="#FF0000" style="white-space:pre;" >Mars</text>
<text x="1336.33" y="1284.40" font-size="28.98" textLength="30.72" lengthAdjust="spacingAndGlyphs" fill="#DA70D6" style="white-space:pre;" >L5</text>
<text x="1068.91" y="768.70" font-size="26.12" textLength="46.68" lengthAdjust="spacingAndGlyphs" fill="#000000" style="white-space:pre;" >Sun</text>
<text x="1691.02" y="756.70" font-size="26.12" textLength="66.56" lengthAdjust="spacingAndGlyphs" fill="#3CB371" style="white-space:pre;" >Earth</text>
<rect x="1800.6" y="1294.0" width="18.3" height="2.2" fill="#000"/>
<rect x="1801" y="1340.5" width="7.6" height="2.7" fill="#000"/>
<rect x="1820.9" y="1340.5" width="7.8" height="2.7" fill="#000"/>
<text x="1845.00" y="1305.20" font-size="30.19" textLength="35.86" lengthAdjust="spacingAndGlyphs" fill="#000000" style="white-space:pre;" >80</text>
<text x="1891.06" y="1305.20" font-size="30.19" textLength="68.34" lengthAdjust="spacingAndGlyphs" fill="#000000" style="white-space:pre;" >days</text>
<text x="1969.10" y="1305.20" font-size="30.19" textLength="88.42" lengthAdjust="spacingAndGlyphs" fill="#000000" style="white-space:pre;" >future</text>
<text x="2067.07" y="1305.20" font-size="30.19" textLength="140.85" lengthAdjust="spacingAndGlyphs" fill="#000000" style="white-space:pre;" >trajectory</text>
<text x="1848.70" y="1349.70" font-size="30.19" textLength="35.86" lengthAdjust="spacingAndGlyphs" fill="#000000" style="white-space:pre;" >80</text>
<text x="1894.76" y="1349.70" font-size="30.19" textLength="68.34" lengthAdjust="spacingAndGlyphs" fill="#000000" style="white-space:pre;" >days</text>
<text x="1973.15" y="1349.70" font-size="30.19" textLength="62.03" lengthAdjust="spacingAndGlyphs" fill="#000000" style="white-space:pre;" >past</text>
<text x="2045.17" y="1349.70" font-size="30.19" textLength="140.85" lengthAdjust="spacingAndGlyphs" fill="#000000" style="white-space:pre;" >trajectory</text>
<text x="24.51" y="1484.80" font-size="28.98" textLength="112.33" lengthAdjust="spacingAndGlyphs" fill="#000000" style="white-space:pre;font-style:italic;" >Austrian</text>
<text x="145.22" y="1484.80" font-size="28.98" textLength="83.09" lengthAdjust="spacingAndGlyphs" fill="#000000" style="white-space:pre;font-style:italic;" >Space</text>
<text x="236.99" y="1484.80" font-size="28.98" textLength="116.04" lengthAdjust="spacingAndGlyphs" fill="#000000" style="white-space:pre;font-style:italic;" >Weather</text>
<text x="360.69" y="1484.80" font-size="28.98" textLength="79.97" lengthAdjust="spacingAndGlyphs" fill="#000000" style="white-space:pre;font-style:italic;" >Office</text>
<text x="463.95" y="1484.80" font-size="28.98" textLength="150.35" lengthAdjust="spacingAndGlyphs" fill="#000000" style="white-space:pre;font-style:italic;" >GeoSphere</text>
<text x="623.08" y="1484.80" font-size="28.98" textLength="94.87" lengthAdjust="spacingAndGlyphs" fill="#000000" style="white-space:pre;font-style:italic;" >Austria</text>
<text x="1964.49" y="1484.70" font-size="28.98" textLength="263.11" lengthAdjust="spacingAndGlyphs" fill="#000000" style="white-space:pre;font-style:italic;" >helioforecast.space</text>
</svg>
</body></html>
